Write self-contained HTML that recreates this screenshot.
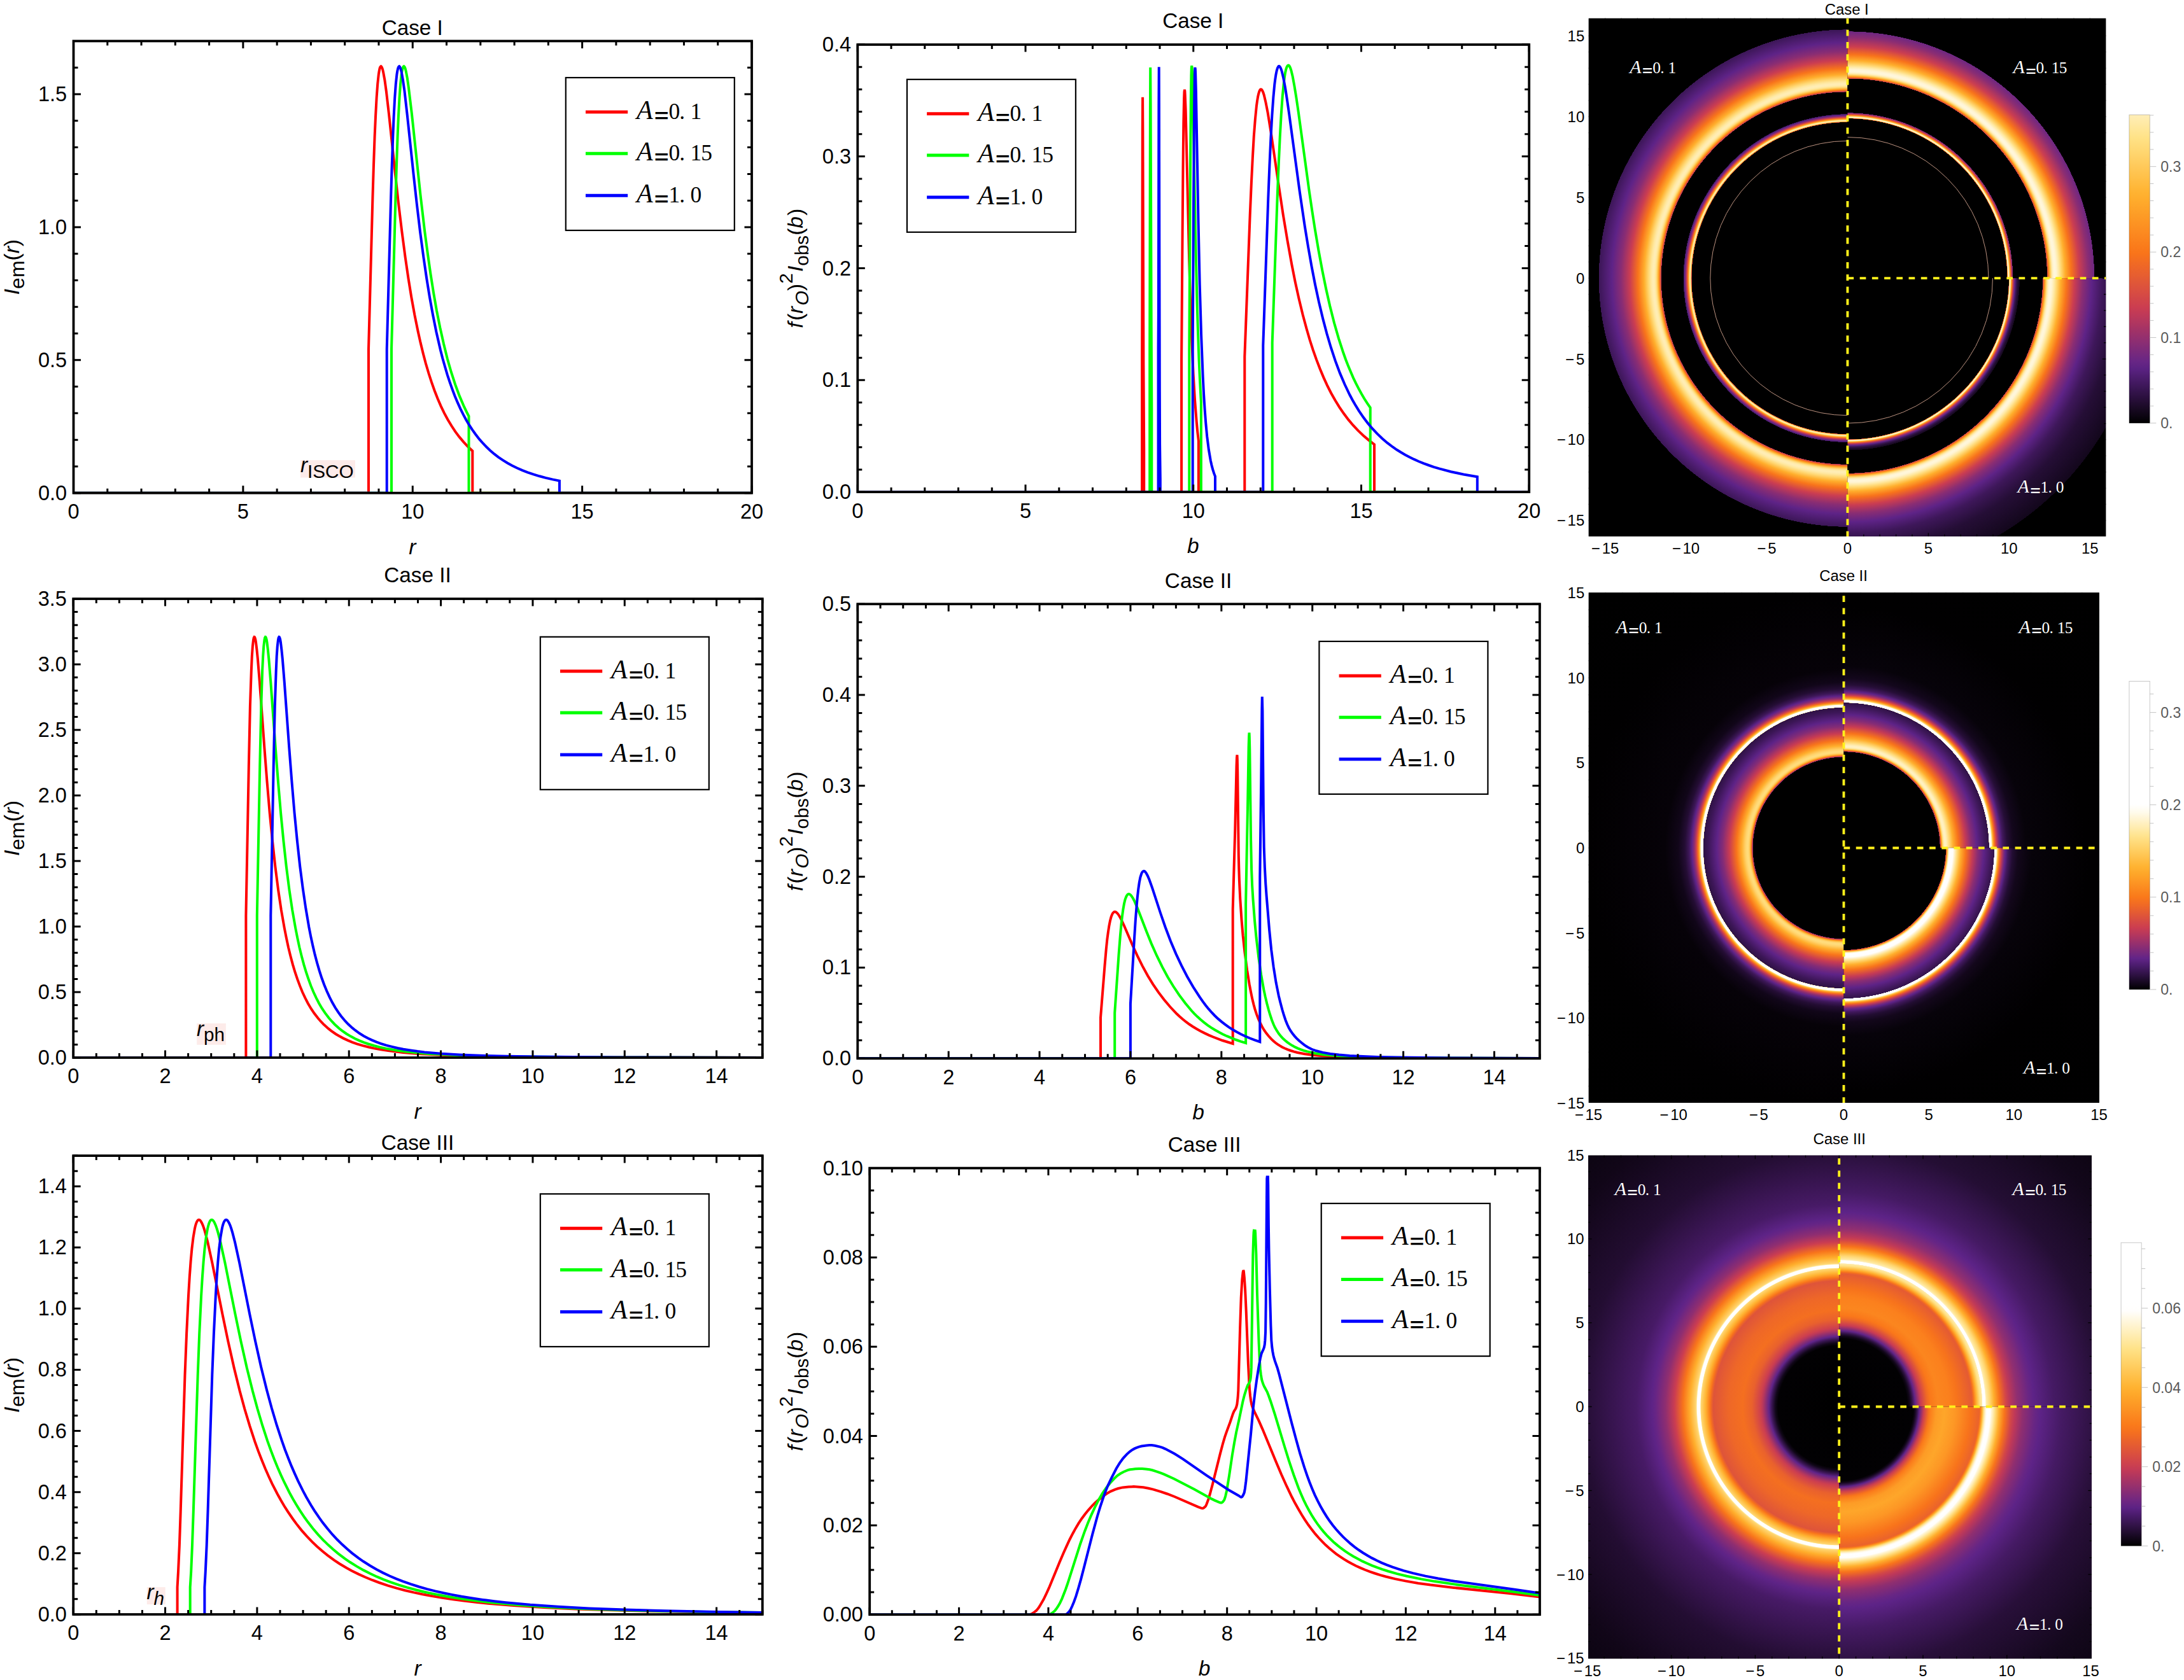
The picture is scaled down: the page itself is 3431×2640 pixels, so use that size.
<!DOCTYPE html>
<html><head><meta charset="utf-8"><title>Figure</title><style>html,body{margin:0;padding:0;background:#fff}svg{display:block}</style></head><body><svg xmlns="http://www.w3.org/2000/svg" width="3431" height="2640" viewBox="0 0 3431 2640"><defs><clipPath id="c1"><rect x="115.50" y="64.50" width="1065.50" height="710.20"/></clipPath>
<clipPath id="c2"><rect x="1347.30" y="70.10" width="1054.90" height="703.00"/></clipPath>
<clipPath id="c3"><rect x="115.20" y="941.00" width="1082.60" height="721.00"/></clipPath>
<clipPath id="c4"><rect x="1347.30" y="949.20" width="1071.60" height="714.10"/></clipPath>
<clipPath id="c5"><rect x="115.20" y="1816.10" width="1082.60" height="720.80"/></clipPath>
<clipPath id="c6"><rect x="1366.20" y="1835.60" width="1052.76" height="701.60"/></clipPath>
<radialGradient id="g1" gradientUnits="userSpaceOnUse" cx="2902.45" cy="437.10" r="574.49"><stop offset="0.00000" stop-color="#000000"/><stop offset="0.42624" stop-color="#000000"/><stop offset="0.42640" stop-color="#be3959"/><stop offset="0.42674" stop-color="#d94e40"/><stop offset="0.42724" stop-color="#fa7619"/><stop offset="0.42790" stop-color="#feaa2b"/><stop offset="0.42807" stop-color="#ffb535"/><stop offset="0.42874" stop-color="#ffd670"/><stop offset="0.42924" stop-color="#ffe592"/><stop offset="0.42974" stop-color="#ffebab"/><stop offset="0.43041" stop-color="#ffedb6"/><stop offset="0.43124" stop-color="#ffeaa7"/><stop offset="0.43241" stop-color="#ffdb7a"/><stop offset="0.43441" stop-color="#ffae2c"/><stop offset="0.43674" stop-color="#fa7519"/><stop offset="0.43991" stop-color="#ca3c52"/><stop offset="0.44291" stop-color="#882d74"/><stop offset="0.44557" stop-color="#5f2489"/><stop offset="0.44874" stop-color="#41185e"/><stop offset="0.44891" stop-color="#000000"/><stop offset="0.50925" stop-color="#000000"/><stop offset="0.50942" stop-color="#b6375c"/><stop offset="0.51042" stop-color="#cd404e"/><stop offset="0.51375" stop-color="#fa7619"/><stop offset="0.51775" stop-color="#ffb230"/><stop offset="0.52125" stop-color="#ffd46d"/><stop offset="0.52459" stop-color="#ffe697"/><stop offset="0.52792" stop-color="#ffecb0"/><stop offset="0.53192" stop-color="#ffedb6"/><stop offset="0.53726" stop-color="#ffe8a1"/><stop offset="0.54476" stop-color="#ffd772"/><stop offset="0.55643" stop-color="#ffae2c"/><stop offset="0.57310" stop-color="#f8741b"/><stop offset="0.59543" stop-color="#cb3d51"/><stop offset="0.61944" stop-color="#8a2d73"/><stop offset="0.64461" stop-color="#5e2387"/><stop offset="0.67761" stop-color="#3e175a"/><stop offset="0.67995" stop-color="#3d1758"/><stop offset="0.68011" stop-color="#000000"/><stop offset="1.00000" stop-color="#000000"/></radialGradient>
<clipPath id="c7"><rect x="2495.80" y="28.85" width="406.65" height="814.05"/></clipPath>
<radialGradient id="g2" gradientUnits="userSpaceOnUse" cx="2902.45" cy="437.10" r="574.49"><stop offset="0.00000" stop-color="#000000"/><stop offset="0.43641" stop-color="#000000"/><stop offset="0.43657" stop-color="#cb3e50"/><stop offset="0.43707" stop-color="#f7721d"/><stop offset="0.43741" stop-color="#fd9624"/><stop offset="0.43757" stop-color="#fea72a"/><stop offset="0.43774" stop-color="#ffb638"/><stop offset="0.43824" stop-color="#ffda78"/><stop offset="0.43874" stop-color="#ffecaf"/><stop offset="0.43924" stop-color="#fff4d1"/><stop offset="0.43974" stop-color="#fff7dd"/><stop offset="0.44024" stop-color="#fff5d6"/><stop offset="0.44107" stop-color="#ffecb2"/><stop offset="0.44207" stop-color="#ffda78"/><stop offset="0.44357" stop-color="#ffb12e"/><stop offset="0.44557" stop-color="#fa7719"/><stop offset="0.44841" stop-color="#ca3c52"/><stop offset="0.45108" stop-color="#882d74"/><stop offset="0.45208" stop-color="#74287e"/><stop offset="0.45224" stop-color="#000000"/><stop offset="0.54576" stop-color="#000000"/><stop offset="0.54592" stop-color="#cc3e50"/><stop offset="0.54926" stop-color="#fa7719"/><stop offset="0.55276" stop-color="#ffb230"/><stop offset="0.55626" stop-color="#ffda78"/><stop offset="0.55959" stop-color="#ffecb1"/><stop offset="0.56276" stop-color="#fff4d1"/><stop offset="0.56659" stop-color="#fff7dd"/><stop offset="0.57110" stop-color="#fff4d3"/><stop offset="0.57776" stop-color="#ffeaa6"/><stop offset="0.58410" stop-color="#ffd874"/><stop offset="0.59543" stop-color="#ffae2c"/><stop offset="0.61177" stop-color="#f8731b"/><stop offset="0.63344" stop-color="#cc3e50"/><stop offset="0.65828" stop-color="#8b2d73"/><stop offset="0.67478" stop-color="#6d2782"/><stop offset="0.67495" stop-color="#000000"/><stop offset="1.00000" stop-color="#000000"/></radialGradient>
<clipPath id="c8"><rect x="2902.45" y="28.85" width="405.75" height="408.25"/></clipPath>
<radialGradient id="g3" gradientUnits="userSpaceOnUse" cx="2902.45" cy="437.10" r="574.49"><stop offset="0.00000" stop-color="#000000"/><stop offset="0.44091" stop-color="#000000"/><stop offset="0.44107" stop-color="#c53a55"/><stop offset="0.44157" stop-color="#f46f20"/><stop offset="0.44174" stop-color="#fb821d"/><stop offset="0.44207" stop-color="#fea62a"/><stop offset="0.44224" stop-color="#ffb637"/><stop offset="0.44274" stop-color="#ffda79"/><stop offset="0.44324" stop-color="#ffecb1"/><stop offset="0.44374" stop-color="#fff4d1"/><stop offset="0.44424" stop-color="#fff6da"/><stop offset="0.44474" stop-color="#fff4cf"/><stop offset="0.44557" stop-color="#ffe9a5"/><stop offset="0.44641" stop-color="#ffd874"/><stop offset="0.44774" stop-color="#ffb12f"/><stop offset="0.44974" stop-color="#fa7719"/><stop offset="0.45241" stop-color="#cc3e50"/><stop offset="0.45541" stop-color="#842c76"/><stop offset="0.45774" stop-color="#5e2387"/><stop offset="0.46124" stop-color="#3c1657"/><stop offset="0.46591" stop-color="#220d31"/><stop offset="0.47058" stop-color="#14081d"/><stop offset="0.47075" stop-color="#000000"/><stop offset="0.53359" stop-color="#000000"/><stop offset="0.53376" stop-color="#c73b54"/><stop offset="0.53726" stop-color="#fa7619"/><stop offset="0.54076" stop-color="#ffb22f"/><stop offset="0.54426" stop-color="#ffda77"/><stop offset="0.54742" stop-color="#ffebad"/><stop offset="0.55059" stop-color="#fff3cf"/><stop offset="0.55426" stop-color="#fff7dc"/><stop offset="0.55876" stop-color="#fff4d2"/><stop offset="0.56543" stop-color="#ffe9a4"/><stop offset="0.57160" stop-color="#ffd874"/><stop offset="0.58276" stop-color="#ffae2c"/><stop offset="0.59877" stop-color="#f8731b"/><stop offset="0.62027" stop-color="#cb3d51"/><stop offset="0.64294" stop-color="#8a2d73"/><stop offset="0.66678" stop-color="#5e2387"/><stop offset="0.69778" stop-color="#3e175a"/><stop offset="0.74246" stop-color="#250e36"/><stop offset="0.81547" stop-color="#13071c"/><stop offset="0.81564" stop-color="#13071c"/><stop offset="0.81580" stop-color="#000000"/><stop offset="1.00000" stop-color="#000000"/></radialGradient>
<clipPath id="c9"><rect x="2902.45" y="437.10" width="405.75" height="405.80"/></clipPath>
<linearGradient id="g4" gradientUnits="userSpaceOnUse" x1="0" y1="664.90" x2="0" y2="180.50"><stop offset="0.0000" stop-color="#000000"/><stop offset="0.0250" stop-color="#0d0513"/><stop offset="0.0500" stop-color="#1a0a25"/><stop offset="0.0750" stop-color="#270e38"/><stop offset="0.1000" stop-color="#33134a"/><stop offset="0.1250" stop-color="#40185d"/><stop offset="0.1500" stop-color="#4d1d6f"/><stop offset="0.1750" stop-color="#5a2282"/><stop offset="0.2000" stop-color="#682685"/><stop offset="0.2250" stop-color="#76297d"/><stop offset="0.2500" stop-color="#842c76"/><stop offset="0.2750" stop-color="#932f6f"/><stop offset="0.3000" stop-color="#a13267"/><stop offset="0.3250" stop-color="#b03660"/><stop offset="0.3500" stop-color="#be3959"/><stop offset="0.3750" stop-color="#cb3d51"/><stop offset="0.4000" stop-color="#d14549"/><stop offset="0.4250" stop-color="#d84d42"/><stop offset="0.4500" stop-color="#de553a"/><stop offset="0.4750" stop-color="#e55d32"/><stop offset="0.5000" stop-color="#ec642a"/><stop offset="0.5250" stop-color="#f26c22"/><stop offset="0.5500" stop-color="#f9741a"/><stop offset="0.5750" stop-color="#fa7c1b"/><stop offset="0.6000" stop-color="#fb841e"/><stop offset="0.6250" stop-color="#fc8c21"/><stop offset="0.6500" stop-color="#fd9423"/><stop offset="0.6750" stop-color="#fd9c26"/><stop offset="0.7000" stop-color="#fea429"/><stop offset="0.7250" stop-color="#ffac2c"/><stop offset="0.7500" stop-color="#ffb332"/><stop offset="0.7750" stop-color="#ffba3e"/><stop offset="0.8000" stop-color="#ffc14a"/><stop offset="0.8250" stop-color="#ffc756"/><stop offset="0.8500" stop-color="#ffce62"/><stop offset="0.8750" stop-color="#ffd56e"/><stop offset="0.9000" stop-color="#ffdb7a"/><stop offset="0.9250" stop-color="#ffe286"/><stop offset="0.9500" stop-color="#ffe696"/><stop offset="0.9750" stop-color="#ffeaa7"/><stop offset="1.0000" stop-color="#ffeeb7"/></linearGradient>
<radialGradient id="g5" gradientUnits="userSpaceOnUse" cx="2896.50" cy="1332.50" r="567.13"><stop offset="0.00000" stop-color="#000000"/><stop offset="0.25171" stop-color="#000000"/><stop offset="0.25188" stop-color="#872d75"/><stop offset="0.25354" stop-color="#cb3d51"/><stop offset="0.25588" stop-color="#fa7619"/><stop offset="0.25871" stop-color="#ffb02d"/><stop offset="0.26121" stop-color="#ffcb5d"/><stop offset="0.26388" stop-color="#ffda77"/><stop offset="0.26738" stop-color="#ffdd7e"/><stop offset="0.27288" stop-color="#ffd26a"/><stop offset="0.28288" stop-color="#ffae2c"/><stop offset="0.29738" stop-color="#f8741b"/><stop offset="0.31722" stop-color="#c83b53"/><stop offset="0.33572" stop-color="#842c76"/><stop offset="0.35156" stop-color="#5e2387"/><stop offset="0.37573" stop-color="#3c1657"/><stop offset="0.38873" stop-color="#2f1244"/><stop offset="0.38890" stop-color="#ffe287"/><stop offset="0.38973" stop-color="#fffcf1"/><stop offset="0.38990" stop-color="#ffffff"/><stop offset="0.39557" stop-color="#ffffff"/><stop offset="0.39657" stop-color="#ffecaf"/><stop offset="0.39740" stop-color="#ffdd7e"/><stop offset="0.39923" stop-color="#ffb93c"/><stop offset="0.39990" stop-color="#ffae2c"/><stop offset="0.40357" stop-color="#f9751a"/><stop offset="0.40873" stop-color="#cc3e50"/><stop offset="0.41407" stop-color="#8e2e71"/><stop offset="0.42057" stop-color="#5e2388"/><stop offset="0.42907" stop-color="#3d1758"/><stop offset="0.44041" stop-color="#240d34"/><stop offset="0.45858" stop-color="#110619"/><stop offset="0.49492" stop-color="#060208"/><stop offset="0.71279" stop-color="#010001"/><stop offset="1.00000" stop-color="#000000"/></radialGradient>
<radialGradient id="g6" gradientUnits="userSpaceOnUse" cx="2896.50" cy="1332.50" r="567.13"><stop offset="0.00000" stop-color="#000000"/><stop offset="0.26638" stop-color="#000000"/><stop offset="0.26654" stop-color="#9a316b"/><stop offset="0.26771" stop-color="#cd3f4f"/><stop offset="0.26971" stop-color="#fa7719"/><stop offset="0.27188" stop-color="#ffb02d"/><stop offset="0.27405" stop-color="#ffd46d"/><stop offset="0.27605" stop-color="#ffe698"/><stop offset="0.27821" stop-color="#ffeeb7"/><stop offset="0.28088" stop-color="#fff1c4"/><stop offset="0.28455" stop-color="#ffeeb8"/><stop offset="0.29238" stop-color="#ffda78"/><stop offset="0.30305" stop-color="#ffae2d"/><stop offset="0.31739" stop-color="#f8741b"/><stop offset="0.33672" stop-color="#c73b54"/><stop offset="0.35306" stop-color="#872c75"/><stop offset="0.36889" stop-color="#5e2387"/><stop offset="0.39140" stop-color="#3c1757"/><stop offset="0.40223" stop-color="#311247"/><stop offset="0.40240" stop-color="#ffe9a2"/><stop offset="0.40290" stop-color="#ffffff"/><stop offset="0.40857" stop-color="#ffffff"/><stop offset="0.40873" stop-color="#fffefa"/><stop offset="0.40957" stop-color="#fff0bf"/><stop offset="0.41074" stop-color="#ffe082"/><stop offset="0.41290" stop-color="#ffb83b"/><stop offset="0.41357" stop-color="#ffad2c"/><stop offset="0.41740" stop-color="#f9741a"/><stop offset="0.42290" stop-color="#ca3c52"/><stop offset="0.42890" stop-color="#822b77"/><stop offset="0.43341" stop-color="#5e2388"/><stop offset="0.44057" stop-color="#41185d"/><stop offset="0.45224" stop-color="#260e37"/><stop offset="0.46991" stop-color="#13071c"/><stop offset="0.50442" stop-color="#07030a"/><stop offset="0.66778" stop-color="#010001"/><stop offset="1.00000" stop-color="#000000"/></radialGradient>
<radialGradient id="g7" gradientUnits="userSpaceOnUse" cx="2896.50" cy="1332.50" r="567.13"><stop offset="0.00000" stop-color="#000000"/><stop offset="0.28271" stop-color="#000000"/><stop offset="0.28288" stop-color="#ba385b"/><stop offset="0.28338" stop-color="#cf424c"/><stop offset="0.28505" stop-color="#fa781a"/><stop offset="0.28671" stop-color="#ffaf2d"/><stop offset="0.28905" stop-color="#ffe48d"/><stop offset="0.29072" stop-color="#fff4cf"/><stop offset="0.29238" stop-color="#fffefb"/><stop offset="0.29438" stop-color="#ffffff"/><stop offset="0.30255" stop-color="#fffefc"/><stop offset="0.31372" stop-color="#ffdc7c"/><stop offset="0.32389" stop-color="#ffaf2d"/><stop offset="0.33789" stop-color="#f8741b"/><stop offset="0.35656" stop-color="#c63b55"/><stop offset="0.37106" stop-color="#8a2d73"/><stop offset="0.38773" stop-color="#5e2387"/><stop offset="0.40990" stop-color="#3d1757"/><stop offset="0.41690" stop-color="#35144d"/><stop offset="0.41707" stop-color="#ffffff"/><stop offset="0.42257" stop-color="#ffffff"/><stop offset="0.42290" stop-color="#fffbef"/><stop offset="0.42440" stop-color="#ffe8a1"/><stop offset="0.42557" stop-color="#ffd671"/><stop offset="0.42774" stop-color="#ffaf2d"/><stop offset="0.43157" stop-color="#f8741b"/><stop offset="0.43691" stop-color="#cc3e50"/><stop offset="0.44341" stop-color="#7f2b79"/><stop offset="0.44757" stop-color="#5e2388"/><stop offset="0.45491" stop-color="#41185d"/><stop offset="0.46758" stop-color="#220d32"/><stop offset="0.48291" stop-color="#13071b"/><stop offset="0.52042" stop-color="#07030a"/><stop offset="0.68145" stop-color="#010001"/><stop offset="1.00000" stop-color="#000000"/></radialGradient>
<linearGradient id="g8" gradientUnits="userSpaceOnUse" x1="0" y1="1554.90" x2="0" y2="1070.50"><stop offset="0.0000" stop-color="#000000"/><stop offset="0.0250" stop-color="#180923"/><stop offset="0.0500" stop-color="#301246"/><stop offset="0.0750" stop-color="#481b69"/><stop offset="0.1000" stop-color="#612488"/><stop offset="0.1250" stop-color="#7c2a7a"/><stop offset="0.1500" stop-color="#97306d"/><stop offset="0.1750" stop-color="#b2365f"/><stop offset="0.2000" stop-color="#cb3d51"/><stop offset="0.2250" stop-color="#d74c42"/><stop offset="0.2500" stop-color="#e45b33"/><stop offset="0.2750" stop-color="#f06a25"/><stop offset="0.3000" stop-color="#fa791a"/><stop offset="0.3250" stop-color="#fb881f"/><stop offset="0.3500" stop-color="#fd9724"/><stop offset="0.3750" stop-color="#fea629"/><stop offset="0.4000" stop-color="#ffb433"/><stop offset="0.4250" stop-color="#ffc04a"/><stop offset="0.4500" stop-color="#ffcd60"/><stop offset="0.4750" stop-color="#ffd977"/><stop offset="0.5000" stop-color="#ffe490"/><stop offset="0.5250" stop-color="#ffecaf"/><stop offset="0.5500" stop-color="#fff3ce"/><stop offset="0.5750" stop-color="#fffbec"/><stop offset="0.6000" stop-color="#ffffff"/><stop offset="0.6250" stop-color="#ffffff"/><stop offset="0.6500" stop-color="#ffffff"/><stop offset="0.6750" stop-color="#ffffff"/><stop offset="0.7000" stop-color="#ffffff"/><stop offset="0.7250" stop-color="#ffffff"/><stop offset="0.7500" stop-color="#ffffff"/><stop offset="0.7750" stop-color="#ffffff"/><stop offset="0.8000" stop-color="#ffffff"/><stop offset="0.8250" stop-color="#ffffff"/><stop offset="0.8500" stop-color="#ffffff"/><stop offset="0.8750" stop-color="#ffffff"/><stop offset="0.9000" stop-color="#ffffff"/><stop offset="0.9250" stop-color="#ffffff"/><stop offset="0.9500" stop-color="#ffffff"/><stop offset="0.9750" stop-color="#ffffff"/><stop offset="1.0000" stop-color="#ffffff"/></linearGradient>
<radialGradient id="g9" gradientUnits="userSpaceOnUse" cx="2889.20" cy="2210.50" r="559.21"><stop offset="0.00000" stop-color="#000000"/><stop offset="0.17153" stop-color="#020103"/><stop offset="0.17920" stop-color="#110719"/><stop offset="0.18953" stop-color="#3b1655"/><stop offset="0.19703" stop-color="#602489"/><stop offset="0.21470" stop-color="#b9385b"/><stop offset="0.22054" stop-color="#cd3f4f"/><stop offset="0.24471" stop-color="#e9612d"/><stop offset="0.27071" stop-color="#f46f20"/><stop offset="0.31139" stop-color="#ee6728"/><stop offset="0.35356" stop-color="#de543a"/><stop offset="0.36073" stop-color="#f36d22"/><stop offset="0.36306" stop-color="#fa791a"/><stop offset="0.37523" stop-color="#ffb331"/><stop offset="0.38556" stop-color="#ffd065"/><stop offset="0.38790" stop-color="#ffd773"/><stop offset="0.38873" stop-color="#ffe083"/><stop offset="0.38906" stop-color="#ffe698"/><stop offset="0.39023" stop-color="#ffffff"/><stop offset="0.39873" stop-color="#ffffff"/><stop offset="0.39923" stop-color="#fff8e2"/><stop offset="0.40057" stop-color="#ffe79d"/><stop offset="0.40140" stop-color="#ffe083"/><stop offset="0.40323" stop-color="#ffd46e"/><stop offset="0.41907" stop-color="#ffae2c"/><stop offset="0.43857" stop-color="#f8741b"/><stop offset="0.46258" stop-color="#cb3d51"/><stop offset="0.48725" stop-color="#902e70"/><stop offset="0.51575" stop-color="#672585"/><stop offset="0.52642" stop-color="#5d2386"/><stop offset="0.56926" stop-color="#471a66"/><stop offset="0.72629" stop-color="#230d32"/><stop offset="0.91532" stop-color="#110618"/><stop offset="1.00000" stop-color="#0c0512"/></radialGradient>
<radialGradient id="g10" gradientUnits="userSpaceOnUse" cx="2889.20" cy="2210.50" r="559.21"><stop offset="0.00000" stop-color="#000000"/><stop offset="0.19153" stop-color="#020103"/><stop offset="0.19870" stop-color="#110719"/><stop offset="0.20503" stop-color="#2d1141"/><stop offset="0.21370" stop-color="#612488"/><stop offset="0.22870" stop-color="#c83b54"/><stop offset="0.24771" stop-color="#f06a24"/><stop offset="0.25671" stop-color="#fa781a"/><stop offset="0.27738" stop-color="#fb861f"/><stop offset="0.30938" stop-color="#fb801d"/><stop offset="0.33172" stop-color="#f7731c"/><stop offset="0.37256" stop-color="#e45b33"/><stop offset="0.37656" stop-color="#ef6926"/><stop offset="0.37873" stop-color="#fa791a"/><stop offset="0.38606" stop-color="#ffb230"/><stop offset="0.39573" stop-color="#ffe184"/><stop offset="0.40007" stop-color="#ffe8a0"/><stop offset="0.40190" stop-color="#ffecae"/><stop offset="0.40257" stop-color="#fff0c2"/><stop offset="0.40273" stop-color="#fff4d3"/><stop offset="0.40290" stop-color="#fffbef"/><stop offset="0.40307" stop-color="#ffffff"/><stop offset="0.41090" stop-color="#ffffff"/><stop offset="0.41207" stop-color="#fff2ca"/><stop offset="0.41340" stop-color="#ffecaf"/><stop offset="0.41657" stop-color="#ffe697"/><stop offset="0.42357" stop-color="#ffd773"/><stop offset="0.43557" stop-color="#ffae2c"/><stop offset="0.45058" stop-color="#f8741b"/><stop offset="0.46808" stop-color="#d34648"/><stop offset="0.47758" stop-color="#bf3958"/><stop offset="0.49958" stop-color="#912f70"/><stop offset="0.53226" stop-color="#692684"/><stop offset="0.54676" stop-color="#5d2387"/><stop offset="0.60243" stop-color="#451a64"/><stop offset="0.73629" stop-color="#240e34"/><stop offset="0.92132" stop-color="#12071a"/><stop offset="1.00000" stop-color="#0e0514"/></radialGradient>
<radialGradient id="g11" gradientUnits="userSpaceOnUse" cx="2889.20" cy="2210.50" r="559.21"><stop offset="0.00000" stop-color="#000000"/><stop offset="0.20837" stop-color="#020103"/><stop offset="0.21337" stop-color="#110618"/><stop offset="0.21937" stop-color="#321349"/><stop offset="0.22554" stop-color="#602489"/><stop offset="0.23787" stop-color="#cb3e50"/><stop offset="0.25204" stop-color="#f7731c"/><stop offset="0.25671" stop-color="#fb7f1c"/><stop offset="0.27305" stop-color="#fd9c26"/><stop offset="0.29622" stop-color="#fea62a"/><stop offset="0.32655" stop-color="#fd9725"/><stop offset="0.36856" stop-color="#f8731b"/><stop offset="0.39357" stop-color="#ea632c"/><stop offset="0.39623" stop-color="#f46f20"/><stop offset="0.39740" stop-color="#fa7a1a"/><stop offset="0.40190" stop-color="#ffb12e"/><stop offset="0.40590" stop-color="#ffdd7d"/><stop offset="0.41074" stop-color="#fff4d2"/><stop offset="0.41374" stop-color="#fffcf5"/><stop offset="0.41640" stop-color="#ffffff"/><stop offset="0.42490" stop-color="#fffefc"/><stop offset="0.42774" stop-color="#fff7dd"/><stop offset="0.43341" stop-color="#ffebad"/><stop offset="0.43891" stop-color="#ffdb7a"/><stop offset="0.44974" stop-color="#ffaf2d"/><stop offset="0.46458" stop-color="#f8741b"/><stop offset="0.48258" stop-color="#d34747"/><stop offset="0.49292" stop-color="#c03958"/><stop offset="0.51642" stop-color="#8f2e70"/><stop offset="0.54976" stop-color="#682684"/><stop offset="0.56509" stop-color="#5d2387"/><stop offset="0.62477" stop-color="#451a64"/><stop offset="0.73996" stop-color="#280f39"/><stop offset="0.91382" stop-color="#14081d"/><stop offset="1.00000" stop-color="#0f0616"/></radialGradient>
<linearGradient id="g12" gradientUnits="userSpaceOnUse" x1="0" y1="2429.30" x2="0" y2="1952.80"><stop offset="0.0000" stop-color="#000000"/><stop offset="0.0250" stop-color="#12071a"/><stop offset="0.0500" stop-color="#250e35"/><stop offset="0.0750" stop-color="#37154f"/><stop offset="0.1000" stop-color="#491b6a"/><stop offset="0.1250" stop-color="#5c2284"/><stop offset="0.1500" stop-color="#702781"/><stop offset="0.1750" stop-color="#842c76"/><stop offset="0.2000" stop-color="#99316c"/><stop offset="0.2250" stop-color="#ad3561"/><stop offset="0.2500" stop-color="#c23a57"/><stop offset="0.2750" stop-color="#cf434c"/><stop offset="0.3000" stop-color="#d94e40"/><stop offset="0.3250" stop-color="#e25935"/><stop offset="0.3500" stop-color="#eb642a"/><stop offset="0.3750" stop-color="#f5701f"/><stop offset="0.4000" stop-color="#fa7b1b"/><stop offset="0.4250" stop-color="#fb861f"/><stop offset="0.4500" stop-color="#fc9223"/><stop offset="0.4750" stop-color="#fd9d26"/><stop offset="0.5000" stop-color="#fea82a"/><stop offset="0.5250" stop-color="#ffb332"/><stop offset="0.5500" stop-color="#ffbd43"/><stop offset="0.5750" stop-color="#ffc654"/><stop offset="0.6000" stop-color="#ffd065"/><stop offset="0.6250" stop-color="#ffd976"/><stop offset="0.6500" stop-color="#ffe288"/><stop offset="0.6750" stop-color="#ffe89f"/><stop offset="0.7000" stop-color="#ffeeb7"/><stop offset="0.7250" stop-color="#fff3ce"/><stop offset="0.7500" stop-color="#fff9e5"/><stop offset="0.7750" stop-color="#fffefd"/><stop offset="0.8000" stop-color="#ffffff"/><stop offset="0.8250" stop-color="#ffffff"/><stop offset="0.8500" stop-color="#ffffff"/><stop offset="0.8750" stop-color="#ffffff"/><stop offset="0.9000" stop-color="#ffffff"/><stop offset="0.9250" stop-color="#ffffff"/><stop offset="0.9500" stop-color="#ffffff"/><stop offset="0.9750" stop-color="#ffffff"/><stop offset="1.0000" stop-color="#ffffff"/></linearGradient></defs><rect width="3431" height="2640" fill="#fff"/><rect x="472.00" y="723.10" width="86.00" height="27.40" fill="#fdebe9"/>
<text x="471.90" y="742.10" font-family='"Liberation Sans", sans-serif' font-size="33.2"><tspan font-style="italic">r</tspan><tspan font-size="29.7" dy="8.4">ISCO</tspan></text>
<g clip-path="url(#c1)" fill="none" stroke-width="4.00" stroke-linejoin="miter" stroke-miterlimit="2.5">
<path d="M115.5,774.7L579.0,774.7L579.0,548.5L585.4,311.4L587.0,259.3L588.6,214.7L590.0,183.7L591.6,153.9L593.2,132.0L594.8,117.0L595.6,111.9L596.6,107.2L597.4,105.2L598.0,104.5L598.5,104.2L599.3,104.8L600.4,106.9L601.2,109.4L602.2,113.9L604.4,125.9L606.8,143.3L611.1,180.2L621.0,273.7L626.0,319.6L631.4,364.2L636.7,404.6L641.5,437.4L646.3,467.1L651.4,495.2L656.8,521.5L660.6,538.6L664.8,555.7L668.9,571.3L673.4,586.5L677.9,600.4L682.6,613.7L687.6,626.5L692.6,638.1L697.9,649.1L703.5,659.5L709.4,669.3L715.2,678.1L721.4,686.4L728.1,694.4L735.0,701.8L742.3,708.7L742.3,774.7L1181.0,774.7" stroke="#ff0000"/>
<path d="M115.5,774.7L615.0,774.7L615.0,548.5L621.4,311.4L623.0,259.3L624.6,214.7L625.9,183.7L627.5,153.9L629.1,132.0L630.7,117.0L631.5,111.9L632.6,107.2L633.4,105.2L633.9,104.5L634.5,104.2L635.3,104.8L636.1,106.2L636.9,108.5L637.9,112.6L639.8,122.6L641.9,137.2L646.8,177.7L660.4,305.4L667.3,364.2L671.9,398.8L676.4,430.4L681.2,460.7L686.0,488.1L691.4,515.2L697.0,540.3L702.8,563.7L708.8,584.7L715.2,604.4L721.9,622.4L729.0,639.0L732.8,646.8L736.5,654.1L736.5,774.7L1181.0,774.7" stroke="#00ff00"/>
<path d="M115.5,774.7L607.7,774.7L607.7,548.5L614.1,311.4L615.7,259.3L617.3,214.7L618.6,183.7L620.2,153.9L621.8,132.0L623.4,117.0L624.2,111.9L625.3,107.2L626.1,105.2L626.6,104.5L627.2,104.2L628.0,104.8L629.0,106.9L629.8,109.4L630.9,113.9L633.0,125.9L635.5,143.3L639.7,180.2L649.6,273.7L654.7,319.6L660.0,364.2L665.4,404.6L670.2,437.4L675.0,467.1L680.1,495.2L685.4,521.5L692.0,550.2L695.2,562.7L699.1,576.5L702.9,589.3L706.8,601.1L710.6,611.9L714.4,622.0L718.9,632.7L723.4,642.6L727.9,651.6L732.4,659.9L736.8,667.4L742.0,675.3L747.1,682.5L752.8,689.9L758.6,696.5L764.4,702.5L770.1,707.9L776.5,713.4L782.9,718.3L790.0,723.1L797.0,727.5L804.7,731.7L812.4,735.5L820.7,739.1L829.0,742.3L838.0,745.4L847.6,748.3L857.2,750.9L868.1,753.4L878.9,755.6L878.9,774.7L1181.0,774.7" stroke="#0000ff"/>
</g>
<path d="M115.50,774.70 v-7.00 M115.50,64.50 v7.00 M168.78,774.70 v-7.00 M168.78,64.50 v7.00 M222.05,774.70 v-7.00 M222.05,64.50 v7.00 M275.32,774.70 v-7.00 M275.32,64.50 v7.00 M328.60,774.70 v-7.00 M328.60,64.50 v7.00 M381.88,774.70 v-7.00 M381.88,64.50 v7.00 M435.15,774.70 v-7.00 M435.15,64.50 v7.00 M488.42,774.70 v-7.00 M488.42,64.50 v7.00 M541.70,774.70 v-7.00 M541.70,64.50 v7.00 M594.98,774.70 v-7.00 M594.98,64.50 v7.00 M648.25,774.70 v-7.00 M648.25,64.50 v7.00 M701.53,774.70 v-7.00 M701.53,64.50 v7.00 M754.80,774.70 v-7.00 M754.80,64.50 v7.00 M808.08,774.70 v-7.00 M808.08,64.50 v7.00 M861.35,774.70 v-7.00 M861.35,64.50 v7.00 M914.62,774.70 v-7.00 M914.62,64.50 v7.00 M967.90,774.70 v-7.00 M967.90,64.50 v7.00 M1021.17,774.70 v-7.00 M1021.17,64.50 v7.00 M1074.45,774.70 v-7.00 M1074.45,64.50 v7.00 M1127.72,774.70 v-7.00 M1127.72,64.50 v7.00 M1181.00,774.70 v-7.00 M1181.00,64.50 v7.00 M115.50,774.70 v-11.50 M115.50,64.50 v11.50 M381.88,774.70 v-11.50 M381.88,64.50 v11.50 M648.25,774.70 v-11.50 M648.25,64.50 v11.50 M914.62,774.70 v-11.50 M914.62,64.50 v11.50 M1181.00,774.70 v-11.50 M1181.00,64.50 v11.50 M115.50,774.70 h7.00 M1181.00,774.70 h-7.00 M115.50,732.92 h7.00 M1181.00,732.92 h-7.00 M115.50,691.15 h7.00 M1181.00,691.15 h-7.00 M115.50,649.37 h7.00 M1181.00,649.37 h-7.00 M115.50,607.59 h7.00 M1181.00,607.59 h-7.00 M115.50,565.82 h7.00 M1181.00,565.82 h-7.00 M115.50,524.04 h7.00 M1181.00,524.04 h-7.00 M115.50,482.26 h7.00 M1181.00,482.26 h-7.00 M115.50,440.49 h7.00 M1181.00,440.49 h-7.00 M115.50,398.71 h7.00 M1181.00,398.71 h-7.00 M115.50,356.94 h7.00 M1181.00,356.94 h-7.00 M115.50,315.16 h7.00 M1181.00,315.16 h-7.00 M115.50,273.38 h7.00 M1181.00,273.38 h-7.00 M115.50,231.61 h7.00 M1181.00,231.61 h-7.00 M115.50,189.83 h7.00 M1181.00,189.83 h-7.00 M115.50,148.05 h7.00 M1181.00,148.05 h-7.00 M115.50,106.28 h7.00 M1181.00,106.28 h-7.00 M115.50,64.50 h7.00 M1181.00,64.50 h-7.00 M115.50,774.70 h11.50 M1181.00,774.70 h-11.50 M115.50,565.82 h11.50 M1181.00,565.82 h-11.50 M115.50,356.94 h11.50 M1181.00,356.94 h-11.50 M115.50,148.05 h11.50 M1181.00,148.05 h-11.50" stroke="#000" stroke-width="3" fill="none"/>
<rect x="115.50" y="64.50" width="1065.50" height="710.20" fill="none" stroke="#000" stroke-width="3.8"/>
<g font-family='"Liberation Sans", sans-serif' font-size="32.5" fill="#000">
<text x="115.50" y="815.10" text-anchor="middle">0</text>
<text x="381.88" y="815.10" text-anchor="middle">5</text>
<text x="648.25" y="815.10" text-anchor="middle">10</text>
<text x="914.62" y="815.10" text-anchor="middle">15</text>
<text x="1181.00" y="815.10" text-anchor="middle">20</text>
<text x="105.20" y="785.70" text-anchor="end">0.0</text>
<text x="105.20" y="576.82" text-anchor="end">0.5</text>
<text x="105.20" y="367.94" text-anchor="end">1.0</text>
<text x="105.20" y="159.05" text-anchor="end">1.5</text>
<text x="647.75" y="55.40" text-anchor="middle" font-size="33.3">Case I</text>
</g>
<text x="647.75" y="870.60" text-anchor="middle" font-family='"Liberation Sans", sans-serif' font-size="33.5" font-style="italic">r</text>
<g transform="translate(30.10,419.60) rotate(-90)"><text text-anchor="middle" font-family='"Liberation Sans", sans-serif' font-size="33.5" x="0" y="0"><tspan font-style="italic">I</tspan><tspan font-size="32" dy="8">em</tspan><tspan dy="-8">(</tspan><tspan font-style="italic">r</tspan>)</text></g>
<rect x="888.80" y="122.00" width="265" height="240" fill="#fff" stroke="#000" stroke-width="2.2"/>
<line x1="920.00" y1="176.00" x2="986.20" y2="176.00" stroke="#ff0000" stroke-width="5"/>
<text y="187.00" fill="#000" font-family='"Liberation Serif", serif'><tspan x="1000.10" font-size="42.0" font-style="italic">A</tspan><tspan x="1027.90" dy="5.00" font-size="29.0" font-family='"Liberation Sans", sans-serif' font-weight="bold" textLength="22.50" lengthAdjust="spacingAndGlyphs">=</tspan><tspan dy="-5.00" font-size="1"> </tspan><tspan font-size="35.5"><tspan x="1050.50">0</tspan><tspan x="1067.30">.</tspan><tspan x="1084.50">1</tspan></tspan></text>
<line x1="920.00" y1="241.30" x2="986.20" y2="241.30" stroke="#00ff00" stroke-width="5"/>
<text y="252.30" fill="#000" font-family='"Liberation Serif", serif'><tspan x="1000.10" font-size="42.0" font-style="italic">A</tspan><tspan x="1027.90" dy="5.00" font-size="29.0" font-family='"Liberation Sans", sans-serif' font-weight="bold" textLength="22.50" lengthAdjust="spacingAndGlyphs">=</tspan><tspan dy="-5.00" font-size="1"> </tspan><tspan font-size="35.5"><tspan x="1050.50">0</tspan><tspan x="1067.30">.</tspan><tspan x="1084.50">1</tspan><tspan x="1101.20">5</tspan></tspan></text>
<line x1="920.00" y1="307.20" x2="986.20" y2="307.20" stroke="#0000ff" stroke-width="5"/>
<text y="318.20" fill="#000" font-family='"Liberation Serif", serif'><tspan x="1000.10" font-size="42.0" font-style="italic">A</tspan><tspan x="1027.90" dy="5.00" font-size="29.0" font-family='"Liberation Sans", sans-serif' font-weight="bold" textLength="22.50" lengthAdjust="spacingAndGlyphs">=</tspan><tspan dy="-5.00" font-size="1"> </tspan><tspan font-size="35.5"><tspan x="1050.50">1</tspan><tspan x="1067.30">.</tspan><tspan x="1084.50">0</tspan></tspan></text>
<g clip-path="url(#c2)" fill="none" stroke-width="4.00" stroke-linejoin="miter" stroke-miterlimit="2.5">
<path d="M1347.3,773.1L1794.1,773.1L1794.1,563.8L1794.3,487.1L1794.8,204.0L1795.1,152.7L1795.4,206.5L1796.4,573.0L1797.2,705.9L1797.2,773.1L1856.1,773.1L1856.1,564.1L1857.6,366.7L1858.5,262.8L1859.3,194.3L1860.1,154.5L1860.5,144.5L1861.0,140.8L1861.4,143.2L1861.7,148.8L1862.7,174.7L1868.2,409.1L1870.2,477.3L1872.2,533.5L1874.6,587.5L1877.1,628.8L1879.8,663.1L1881.2,678.1L1882.9,692.8L1882.9,773.1L1955.3,773.1L1955.3,560.4L1963.7,337.6L1965.9,287.1L1967.9,247.1L1969.8,213.9L1971.9,187.1L1974.0,165.9L1975.0,158.7L1976.2,151.6L1977.2,147.3L1978.4,143.4L1979.6,141.2L1980.0,140.7L1980.8,140.4L1981.2,140.5L1982.0,140.9L1983.2,142.6L1984.4,145.3L1985.6,148.9L1988.4,160.6L1991.6,176.9L1996.9,209.8L2009.4,295.3L2015.8,337.7L2022.6,378.5L2029.3,415.6L2034.8,443.3L2040.6,469.6L2046.6,494.4L2052.6,516.8L2057.6,534.0L2062.7,549.8L2068.0,564.9L2073.5,579.3L2079.3,593.1L2085.0,605.6L2091.0,617.5L2097.5,629.1L2104.0,639.6L2111.0,649.8L2118.2,659.4L2125.6,668.2L2133.3,676.4L2141.5,684.2L2150.2,691.6L2159.0,698.4L2159.0,773.1L2402.2,773.1" stroke="#ff0000"/>
<path d="M1347.3,773.1L1806.2,773.1L1806.2,548.1L1806.9,175.8L1807.2,106.1L1807.6,163.4L1808.7,513.7L1809.3,641.2L1809.3,773.1L1868.3,773.1L1868.3,551.7L1869.5,329.1L1870.8,159.9L1871.4,118.5L1871.8,106.5L1872.2,103.3L1872.5,105.1L1872.9,112.9L1873.7,141.5L1877.8,359.3L1880.5,473.3L1882.0,522.0L1883.5,564.5L1885.2,601.3L1886.9,632.5L1886.9,773.1L1998.7,773.1L1998.7,538.5L2006.7,308.6L2008.8,256.8L2010.8,214.0L2012.8,178.8L2014.8,150.7L2017.0,128.8L2017.9,121.5L2019.1,114.2L2020.3,108.9L2021.5,105.3L2022.7,103.3L2023.2,102.9L2023.9,102.6L2024.9,103.0L2026.1,104.6L2027.1,106.8L2028.3,110.3L2030.7,120.1L2033.5,135.3L2036.4,153.2L2039.8,176.3L2056.8,301.0L2061.4,332.0L2065.7,359.7L2071.5,393.9L2077.3,425.1L2083.3,454.5L2089.3,481.0L2096.0,507.5L2103.0,531.8L2110.2,554.0L2114.0,564.7L2117.9,574.7L2122.0,584.6L2126.0,593.8L2130.1,602.4L2134.5,610.9L2138.8,618.8L2143.3,626.5L2147.9,633.6L2152.7,640.6L2152.7,773.1L2402.2,773.1" stroke="#00ff00"/>
<path d="M1347.3,773.1L1819.6,773.1L1819.6,547.8L1819.9,495.3L1820.4,168.4L1820.7,105.3L1820.9,162.5L1821.8,616.1L1822.1,698.4L1822.8,752.2L1822.8,773.1L1873.7,773.1L1873.7,552.6L1874.9,334.2L1876.2,160.2L1876.8,119.1L1877.1,109.4L1877.4,106.0L1877.8,108.2L1878.1,114.8L1878.9,144.9L1882.5,345.5L1884.7,446.8L1887.1,526.3L1889.7,591.9L1891.1,619.7L1892.6,642.9L1894.3,665.1L1896.2,685.4L1898.9,706.7L1901.8,723.6L1903.5,731.3L1905.2,737.6L1907.1,743.6L1909.0,748.5L1909.0,773.1L1984.3,773.1L1984.3,542.9L1992.3,312.1L1994.4,259.9L1996.4,216.6L1998.4,181.0L2000.4,152.7L2002.3,132.4L2003.3,124.6L2004.5,116.8L2005.7,111.0L2006.9,107.1L2008.1,104.8L2008.5,104.3L2009.3,104.0L2010.2,104.4L2011.4,106.0L2012.6,108.7L2013.8,112.5L2016.2,122.6L2019.1,138.2L2021.7,154.9L2025.1,178.3L2041.7,300.7L2049.8,355.6L2055.1,388.0L2060.6,419.1L2066.1,447.5L2071.9,474.4L2078.2,500.7L2084.4,524.3L2090.9,546.2L2097.8,567.2L2105.0,586.4L2112.5,604.0L2120.4,620.5L2124.5,628.2L2128.8,635.8L2135.0,645.9L2141.8,655.8L2148.7,664.9L2155.9,673.5L2163.4,681.4L2171.3,689.0L2179.4,695.9L2188.1,702.5L2194.3,706.8L2200.8,710.8L2207.5,714.7L2214.2,718.3L2221.2,721.7L2228.6,725.0L2236.3,728.1L2244.2,731.0L2252.4,733.8L2261.0,736.4L2279.3,741.2L2299.2,745.5L2320.8,749.2L2320.8,773.1L2402.2,773.1" stroke="#0000ff"/>
</g>
<path d="M1347.30,773.10 v-7.00 M1347.30,70.10 v7.00 M1400.04,773.10 v-7.00 M1400.04,70.10 v7.00 M1452.79,773.10 v-7.00 M1452.79,70.10 v7.00 M1505.53,773.10 v-7.00 M1505.53,70.10 v7.00 M1558.28,773.10 v-7.00 M1558.28,70.10 v7.00 M1611.02,773.10 v-7.00 M1611.02,70.10 v7.00 M1663.77,773.10 v-7.00 M1663.77,70.10 v7.00 M1716.51,773.10 v-7.00 M1716.51,70.10 v7.00 M1769.26,773.10 v-7.00 M1769.26,70.10 v7.00 M1822.00,773.10 v-7.00 M1822.00,70.10 v7.00 M1874.75,773.10 v-7.00 M1874.75,70.10 v7.00 M1927.49,773.10 v-7.00 M1927.49,70.10 v7.00 M1980.24,773.10 v-7.00 M1980.24,70.10 v7.00 M2032.98,773.10 v-7.00 M2032.98,70.10 v7.00 M2085.73,773.10 v-7.00 M2085.73,70.10 v7.00 M2138.47,773.10 v-7.00 M2138.47,70.10 v7.00 M2191.22,773.10 v-7.00 M2191.22,70.10 v7.00 M2243.96,773.10 v-7.00 M2243.96,70.10 v7.00 M2296.71,773.10 v-7.00 M2296.71,70.10 v7.00 M2349.45,773.10 v-7.00 M2349.45,70.10 v7.00 M2402.20,773.10 v-7.00 M2402.20,70.10 v7.00 M1347.30,773.10 v-11.50 M1347.30,70.10 v11.50 M1611.02,773.10 v-11.50 M1611.02,70.10 v11.50 M1874.75,773.10 v-11.50 M1874.75,70.10 v11.50 M2138.47,773.10 v-11.50 M2138.47,70.10 v11.50 M2402.20,773.10 v-11.50 M2402.20,70.10 v11.50 M1347.30,773.10 h7.00 M2402.20,773.10 h-7.00 M1347.30,737.95 h7.00 M2402.20,737.95 h-7.00 M1347.30,702.80 h7.00 M2402.20,702.80 h-7.00 M1347.30,667.65 h7.00 M2402.20,667.65 h-7.00 M1347.30,632.50 h7.00 M2402.20,632.50 h-7.00 M1347.30,597.35 h7.00 M2402.20,597.35 h-7.00 M1347.30,562.20 h7.00 M2402.20,562.20 h-7.00 M1347.30,527.05 h7.00 M2402.20,527.05 h-7.00 M1347.30,491.90 h7.00 M2402.20,491.90 h-7.00 M1347.30,456.75 h7.00 M2402.20,456.75 h-7.00 M1347.30,421.60 h7.00 M2402.20,421.60 h-7.00 M1347.30,386.45 h7.00 M2402.20,386.45 h-7.00 M1347.30,351.30 h7.00 M2402.20,351.30 h-7.00 M1347.30,316.15 h7.00 M2402.20,316.15 h-7.00 M1347.30,281.00 h7.00 M2402.20,281.00 h-7.00 M1347.30,245.85 h7.00 M2402.20,245.85 h-7.00 M1347.30,210.70 h7.00 M2402.20,210.70 h-7.00 M1347.30,175.55 h7.00 M2402.20,175.55 h-7.00 M1347.30,140.40 h7.00 M2402.20,140.40 h-7.00 M1347.30,105.25 h7.00 M2402.20,105.25 h-7.00 M1347.30,70.10 h7.00 M2402.20,70.10 h-7.00 M1347.30,773.10 h11.50 M2402.20,773.10 h-11.50 M1347.30,597.35 h11.50 M2402.20,597.35 h-11.50 M1347.30,421.60 h11.50 M2402.20,421.60 h-11.50 M1347.30,245.85 h11.50 M2402.20,245.85 h-11.50 M1347.30,70.10 h11.50 M2402.20,70.10 h-11.50" stroke="#000" stroke-width="3" fill="none"/>
<rect x="1347.30" y="70.10" width="1054.90" height="703.00" fill="none" stroke="#000" stroke-width="3.8"/>
<g font-family='"Liberation Sans", sans-serif' font-size="32.5" fill="#000">
<text x="1347.30" y="813.50" text-anchor="middle">0</text>
<text x="1611.02" y="813.50" text-anchor="middle">5</text>
<text x="1874.75" y="813.50" text-anchor="middle">10</text>
<text x="2138.47" y="813.50" text-anchor="middle">15</text>
<text x="2402.20" y="813.50" text-anchor="middle">20</text>
<text x="1337.00" y="784.10" text-anchor="end">0.0</text>
<text x="1337.00" y="608.35" text-anchor="end">0.1</text>
<text x="1337.00" y="432.60" text-anchor="end">0.2</text>
<text x="1337.00" y="256.85" text-anchor="end">0.3</text>
<text x="1337.00" y="81.10" text-anchor="end">0.4</text>
<text x="1874.25" y="44.25" text-anchor="middle" font-size="33.3">Case I</text>
</g>
<text x="1874.25" y="869.20" text-anchor="middle" font-family='"Liberation Sans", sans-serif' font-size="33.5" font-style="italic">b</text>
<g transform="translate(1261.00,421.60) rotate(-90)"><text text-anchor="middle" font-family='"Liberation Sans", sans-serif' font-size="33.5" x="0" y="0"><tspan font-style="italic">f</tspan><tspan dx="2.4">(</tspan><tspan font-style="italic">r</tspan><tspan font-size="29.7" font-style="italic" dx="1.4" dy="8.5">O</tspan><tspan dy="-8.5">)</tspan><tspan font-size="29.7" dy="-15.9">2</tspan><tspan dy="15.9" dx="2.3" font-style="italic">I</tspan><tspan font-size="29.7" dy="8.5">obs</tspan><tspan dy="-8.5">(</tspan><tspan font-style="italic">b</tspan><tspan dx="1.2">)</tspan></text></g>
<rect x="1424.90" y="124.80" width="265" height="240" fill="#fff" stroke="#000" stroke-width="2.2"/>
<line x1="1456.10" y1="178.80" x2="1522.30" y2="178.80" stroke="#ff0000" stroke-width="5"/>
<text y="189.80" fill="#000" font-family='"Liberation Serif", serif'><tspan x="1536.20" font-size="42.0" font-style="italic">A</tspan><tspan x="1564.00" dy="5.00" font-size="29.0" font-family='"Liberation Sans", sans-serif' font-weight="bold" textLength="22.50" lengthAdjust="spacingAndGlyphs">=</tspan><tspan dy="-5.00" font-size="1"> </tspan><tspan font-size="35.5"><tspan x="1586.60">0</tspan><tspan x="1603.40">.</tspan><tspan x="1620.60">1</tspan></tspan></text>
<line x1="1456.10" y1="244.10" x2="1522.30" y2="244.10" stroke="#00ff00" stroke-width="5"/>
<text y="255.10" fill="#000" font-family='"Liberation Serif", serif'><tspan x="1536.20" font-size="42.0" font-style="italic">A</tspan><tspan x="1564.00" dy="5.00" font-size="29.0" font-family='"Liberation Sans", sans-serif' font-weight="bold" textLength="22.50" lengthAdjust="spacingAndGlyphs">=</tspan><tspan dy="-5.00" font-size="1"> </tspan><tspan font-size="35.5"><tspan x="1586.60">0</tspan><tspan x="1603.40">.</tspan><tspan x="1620.60">1</tspan><tspan x="1637.30">5</tspan></tspan></text>
<line x1="1456.10" y1="310.00" x2="1522.30" y2="310.00" stroke="#0000ff" stroke-width="5"/>
<text y="321.00" fill="#000" font-family='"Liberation Serif", serif'><tspan x="1536.20" font-size="42.0" font-style="italic">A</tspan><tspan x="1564.00" dy="5.00" font-size="29.0" font-family='"Liberation Sans", sans-serif' font-weight="bold" textLength="22.50" lengthAdjust="spacingAndGlyphs">=</tspan><tspan dy="-5.00" font-size="1"> </tspan><tspan font-size="35.5"><tspan x="1586.60">1</tspan><tspan x="1603.40">.</tspan><tspan x="1620.60">0</tspan></tspan></text>
<rect x="309.20" y="1608.20" width="45.70" height="33.60" fill="#fdebe9"/>
<text x="308.90" y="1627.60" font-family='"Liberation Sans", sans-serif' font-size="33.2"><tspan font-style="italic">r</tspan><tspan font-size="29.7" dy="8.4">ph</tspan></text>
<g clip-path="url(#c3)" fill="none" stroke-width="4.00" stroke-linejoin="miter" stroke-miterlimit="2.5">
<path d="M115.2,1662.0L386.4,1662.0L386.4,1439.0L390.8,1205.1L392.9,1109.7L394.8,1054.1L395.8,1031.3L396.9,1015.4L398.0,1005.7L398.7,1002.2L399.5,1000.8L399.8,1000.9L400.5,1002.2L401.3,1005.0L402.0,1009.1L403.4,1020.5L404.9,1035.2L407.8,1070.9L415.4,1175.3L419.4,1226.8L423.7,1277.6L428.1,1322.5L432.4,1361.7L437.1,1398.4L441.8,1430.0L446.9,1459.0L449.8,1473.6L453.0,1488.6L456.3,1502.1L459.9,1515.6L463.5,1527.7L467.2,1538.6L471.2,1549.4L475.1,1559.0L479.5,1568.3L483.8,1576.7L488.5,1584.7L493.6,1592.3L499.4,1599.8L504.1,1605.2L508.8,1610.1L515.9,1616.4L520.6,1620.1L527.6,1625.0L532.3,1627.8L539.4,1631.6L546.4,1634.9L553.5,1637.8L560.5,1640.3L569.9,1643.1L579.3,1645.5L588.7,1647.6L598.2,1649.3L609.9,1651.1L621.7,1652.6L633.4,1653.9L661.6,1656.2L692.2,1657.8L727.5,1659.1L769.8,1660.0L819.2,1660.7L880.3,1661.2L957.9,1661.5L1197.8,1661.9" stroke="#ff0000"/>
<path d="M115.2,1662.0L403.8,1662.0L403.8,1439.0L408.2,1205.1L410.3,1109.7L412.1,1054.1L413.2,1031.3L414.3,1015.4L415.4,1005.7L416.1,1002.2L416.9,1000.8L417.2,1000.9L417.9,1002.2L418.7,1005.0L419.4,1009.1L420.8,1020.5L422.3,1035.2L425.2,1070.9L432.8,1175.3L436.8,1226.8L441.1,1277.6L445.5,1322.5L449.8,1361.7L454.5,1398.4L459.2,1430.0L464.3,1459.0L467.2,1473.6L470.4,1488.6L473.7,1502.1L477.3,1515.6L480.9,1527.7L484.6,1538.6L488.5,1549.4L492.5,1559.0L496.9,1568.3L501.2,1576.7L505.9,1584.7L510.6,1591.7L516.7,1599.7L521.3,1605.0L525.8,1609.7L532.7,1616.0L537.3,1619.6L544.2,1624.5L551.1,1628.6L557.9,1632.2L564.8,1635.4L571.7,1638.1L578.6,1640.5L587.8,1643.2L596.9,1645.6L606.1,1647.6L624.5,1650.7L635.9,1652.3L647.4,1653.6L674.9,1655.9L704.7,1657.6L739.1,1658.9L780.4,1659.9L828.6,1660.6L888.2,1661.1L963.9,1661.5L1197.8,1661.9" stroke="#00ff00"/>
<path d="M115.2,1662.0L425.3,1662.0L425.3,1439.0L429.7,1205.1L431.8,1109.7L433.7,1054.1L434.7,1031.3L435.8,1015.4L436.9,1005.7L437.6,1002.2L438.4,1000.8L438.7,1000.9L439.4,1002.2L440.2,1005.0L440.9,1009.1L442.3,1020.5L443.8,1035.2L446.7,1070.9L454.3,1175.3L458.3,1226.8L462.6,1277.6L467.0,1322.5L471.3,1361.7L475.7,1395.8L480.4,1427.7L485.4,1457.1L488.3,1471.9L491.6,1487.0L494.8,1500.6L498.1,1513.0L501.7,1525.4L505.3,1536.5L509.3,1547.5L513.3,1557.3L517.7,1566.9L522.0,1575.3L526.7,1583.5L531.4,1590.7L535.8,1596.7L542.5,1604.7L546.9,1609.3L553.6,1615.4L558.0,1619.0L564.7,1623.8L571.4,1627.9L578.0,1631.5L584.7,1634.6L591.3,1637.4L598.0,1639.8L606.9,1642.6L615.8,1644.9L624.7,1647.0L633.6,1648.7L644.7,1650.5L655.8,1652.1L666.9,1653.4L693.5,1655.7L722.4,1657.4L755.7,1658.8L795.7,1659.8L844.6,1660.6L902.3,1661.1L975.7,1661.5L1197.8,1661.9" stroke="#0000ff"/>
</g>
<path d="M115.20,1662.00 v-7.00 M115.20,941.00 v7.00 M151.29,1662.00 v-7.00 M151.29,941.00 v7.00 M187.37,1662.00 v-7.00 M187.37,941.00 v7.00 M223.46,1662.00 v-7.00 M223.46,941.00 v7.00 M259.55,1662.00 v-7.00 M259.55,941.00 v7.00 M295.63,1662.00 v-7.00 M295.63,941.00 v7.00 M331.72,1662.00 v-7.00 M331.72,941.00 v7.00 M367.81,1662.00 v-7.00 M367.81,941.00 v7.00 M403.89,1662.00 v-7.00 M403.89,941.00 v7.00 M439.98,1662.00 v-7.00 M439.98,941.00 v7.00 M476.07,1662.00 v-7.00 M476.07,941.00 v7.00 M512.15,1662.00 v-7.00 M512.15,941.00 v7.00 M548.24,1662.00 v-7.00 M548.24,941.00 v7.00 M584.33,1662.00 v-7.00 M584.33,941.00 v7.00 M620.41,1662.00 v-7.00 M620.41,941.00 v7.00 M656.50,1662.00 v-7.00 M656.50,941.00 v7.00 M692.59,1662.00 v-7.00 M692.59,941.00 v7.00 M728.67,1662.00 v-7.00 M728.67,941.00 v7.00 M764.76,1662.00 v-7.00 M764.76,941.00 v7.00 M800.85,1662.00 v-7.00 M800.85,941.00 v7.00 M836.93,1662.00 v-7.00 M836.93,941.00 v7.00 M873.02,1662.00 v-7.00 M873.02,941.00 v7.00 M909.11,1662.00 v-7.00 M909.11,941.00 v7.00 M945.19,1662.00 v-7.00 M945.19,941.00 v7.00 M981.28,1662.00 v-7.00 M981.28,941.00 v7.00 M1017.37,1662.00 v-7.00 M1017.37,941.00 v7.00 M1053.45,1662.00 v-7.00 M1053.45,941.00 v7.00 M1089.54,1662.00 v-7.00 M1089.54,941.00 v7.00 M1125.63,1662.00 v-7.00 M1125.63,941.00 v7.00 M1161.71,1662.00 v-7.00 M1161.71,941.00 v7.00 M1197.80,1662.00 v-7.00 M1197.80,941.00 v7.00 M115.20,1662.00 v-11.50 M115.20,941.00 v11.50 M259.55,1662.00 v-11.50 M259.55,941.00 v11.50 M403.89,1662.00 v-11.50 M403.89,941.00 v11.50 M548.24,1662.00 v-11.50 M548.24,941.00 v11.50 M692.59,1662.00 v-11.50 M692.59,941.00 v11.50 M836.93,1662.00 v-11.50 M836.93,941.00 v11.50 M981.28,1662.00 v-11.50 M981.28,941.00 v11.50 M1125.63,1662.00 v-11.50 M1125.63,941.00 v11.50 M115.20,1662.00 h7.00 M1197.80,1662.00 h-7.00 M115.20,1641.40 h7.00 M1197.80,1641.40 h-7.00 M115.20,1620.80 h7.00 M1197.80,1620.80 h-7.00 M115.20,1600.20 h7.00 M1197.80,1600.20 h-7.00 M115.20,1579.60 h7.00 M1197.80,1579.60 h-7.00 M115.20,1559.00 h7.00 M1197.80,1559.00 h-7.00 M115.20,1538.40 h7.00 M1197.80,1538.40 h-7.00 M115.20,1517.80 h7.00 M1197.80,1517.80 h-7.00 M115.20,1497.20 h7.00 M1197.80,1497.20 h-7.00 M115.20,1476.60 h7.00 M1197.80,1476.60 h-7.00 M115.20,1456.00 h7.00 M1197.80,1456.00 h-7.00 M115.20,1435.40 h7.00 M1197.80,1435.40 h-7.00 M115.20,1414.80 h7.00 M1197.80,1414.80 h-7.00 M115.20,1394.20 h7.00 M1197.80,1394.20 h-7.00 M115.20,1373.60 h7.00 M1197.80,1373.60 h-7.00 M115.20,1353.00 h7.00 M1197.80,1353.00 h-7.00 M115.20,1332.40 h7.00 M1197.80,1332.40 h-7.00 M115.20,1311.80 h7.00 M1197.80,1311.80 h-7.00 M115.20,1291.20 h7.00 M1197.80,1291.20 h-7.00 M115.20,1270.60 h7.00 M1197.80,1270.60 h-7.00 M115.20,1250.00 h7.00 M1197.80,1250.00 h-7.00 M115.20,1229.40 h7.00 M1197.80,1229.40 h-7.00 M115.20,1208.80 h7.00 M1197.80,1208.80 h-7.00 M115.20,1188.20 h7.00 M1197.80,1188.20 h-7.00 M115.20,1167.60 h7.00 M1197.80,1167.60 h-7.00 M115.20,1147.00 h7.00 M1197.80,1147.00 h-7.00 M115.20,1126.40 h7.00 M1197.80,1126.40 h-7.00 M115.20,1105.80 h7.00 M1197.80,1105.80 h-7.00 M115.20,1085.20 h7.00 M1197.80,1085.20 h-7.00 M115.20,1064.60 h7.00 M1197.80,1064.60 h-7.00 M115.20,1044.00 h7.00 M1197.80,1044.00 h-7.00 M115.20,1023.40 h7.00 M1197.80,1023.40 h-7.00 M115.20,1002.80 h7.00 M1197.80,1002.80 h-7.00 M115.20,982.20 h7.00 M1197.80,982.20 h-7.00 M115.20,961.60 h7.00 M1197.80,961.60 h-7.00 M115.20,941.00 h7.00 M1197.80,941.00 h-7.00 M115.20,1662.00 h11.50 M1197.80,1662.00 h-11.50 M115.20,1559.00 h11.50 M1197.80,1559.00 h-11.50 M115.20,1456.00 h11.50 M1197.80,1456.00 h-11.50 M115.20,1353.00 h11.50 M1197.80,1353.00 h-11.50 M115.20,1250.00 h11.50 M1197.80,1250.00 h-11.50 M115.20,1147.00 h11.50 M1197.80,1147.00 h-11.50 M115.20,1044.00 h11.50 M1197.80,1044.00 h-11.50 M115.20,941.00 h11.50 M1197.80,941.00 h-11.50" stroke="#000" stroke-width="3" fill="none"/>
<rect x="115.20" y="941.00" width="1082.60" height="721.00" fill="none" stroke="#000" stroke-width="3.8"/>
<g font-family='"Liberation Sans", sans-serif' font-size="32.5" fill="#000">
<text x="115.20" y="1702.40" text-anchor="middle">0</text>
<text x="259.55" y="1702.40" text-anchor="middle">2</text>
<text x="403.89" y="1702.40" text-anchor="middle">4</text>
<text x="548.24" y="1702.40" text-anchor="middle">6</text>
<text x="692.59" y="1702.40" text-anchor="middle">8</text>
<text x="836.93" y="1702.40" text-anchor="middle">10</text>
<text x="981.28" y="1702.40" text-anchor="middle">12</text>
<text x="1125.63" y="1702.40" text-anchor="middle">14</text>
<text x="104.90" y="1673.00" text-anchor="end">0.0</text>
<text x="104.90" y="1570.00" text-anchor="end">0.5</text>
<text x="104.90" y="1467.00" text-anchor="end">1.0</text>
<text x="104.90" y="1364.00" text-anchor="end">1.5</text>
<text x="104.90" y="1261.00" text-anchor="end">2.0</text>
<text x="104.90" y="1158.00" text-anchor="end">2.5</text>
<text x="104.90" y="1055.00" text-anchor="end">3.0</text>
<text x="104.90" y="952.00" text-anchor="end">3.5</text>
<text x="656.00" y="915.10" text-anchor="middle" font-size="33.3">Case II</text>
</g>
<text x="656.00" y="1758.00" text-anchor="middle" font-family='"Liberation Sans", sans-serif' font-size="33.5" font-style="italic">r</text>
<g transform="translate(30.10,1301.50) rotate(-90)"><text text-anchor="middle" font-family='"Liberation Sans", sans-serif' font-size="33.5" x="0" y="0"><tspan font-style="italic">I</tspan><tspan font-size="32" dy="8">em</tspan><tspan dy="-8">(</tspan><tspan font-style="italic">r</tspan>)</text></g>
<rect x="848.80" y="1000.80" width="265" height="240" fill="#fff" stroke="#000" stroke-width="2.2"/>
<line x1="880.00" y1="1054.80" x2="946.20" y2="1054.80" stroke="#ff0000" stroke-width="5"/>
<text y="1065.80" fill="#000" font-family='"Liberation Serif", serif'><tspan x="960.10" font-size="42.0" font-style="italic">A</tspan><tspan x="987.90" dy="5.00" font-size="29.0" font-family='"Liberation Sans", sans-serif' font-weight="bold" textLength="22.50" lengthAdjust="spacingAndGlyphs">=</tspan><tspan dy="-5.00" font-size="1"> </tspan><tspan font-size="35.5"><tspan x="1010.50">0</tspan><tspan x="1027.30">.</tspan><tspan x="1044.50">1</tspan></tspan></text>
<line x1="880.00" y1="1120.10" x2="946.20" y2="1120.10" stroke="#00ff00" stroke-width="5"/>
<text y="1131.10" fill="#000" font-family='"Liberation Serif", serif'><tspan x="960.10" font-size="42.0" font-style="italic">A</tspan><tspan x="987.90" dy="5.00" font-size="29.0" font-family='"Liberation Sans", sans-serif' font-weight="bold" textLength="22.50" lengthAdjust="spacingAndGlyphs">=</tspan><tspan dy="-5.00" font-size="1"> </tspan><tspan font-size="35.5"><tspan x="1010.50">0</tspan><tspan x="1027.30">.</tspan><tspan x="1044.50">1</tspan><tspan x="1061.20">5</tspan></tspan></text>
<line x1="880.00" y1="1186.00" x2="946.20" y2="1186.00" stroke="#0000ff" stroke-width="5"/>
<text y="1197.00" fill="#000" font-family='"Liberation Serif", serif'><tspan x="960.10" font-size="42.0" font-style="italic">A</tspan><tspan x="987.90" dy="5.00" font-size="29.0" font-family='"Liberation Sans", sans-serif' font-weight="bold" textLength="22.50" lengthAdjust="spacingAndGlyphs">=</tspan><tspan dy="-5.00" font-size="1"> </tspan><tspan font-size="35.5"><tspan x="1010.50">1</tspan><tspan x="1027.30">.</tspan><tspan x="1044.50">0</tspan></tspan></text>
<g clip-path="url(#c4)" fill="none" stroke-width="4.00" stroke-linejoin="miter" stroke-miterlimit="2.5">
<path d="M1347.3,1663.3L1729.0,1663.3L1729.0,1599.0L1735.5,1517.5L1737.8,1491.2L1739.3,1476.5L1740.9,1464.5L1742.4,1454.8L1744.0,1446.7L1745.7,1440.4L1747.4,1436.3L1748.4,1434.7L1749.4,1433.7L1750.4,1433.0L1751.5,1432.8L1752.4,1433.0L1753.4,1433.4L1755.7,1435.5L1758.0,1438.7L1760.9,1443.9L1765.8,1454.3L1779.1,1485.2L1786.6,1501.7L1794.8,1518.1L1803.2,1533.5L1811.4,1546.8L1819.8,1559.2L1828.6,1570.8L1838.1,1582.0L1848.5,1593.0L1853.0,1597.3L1857.9,1601.5L1863.1,1605.7L1868.3,1609.5L1873.9,1613.2L1879.7,1616.8L1885.9,1620.3L1892.1,1623.4L1898.9,1626.6L1905.8,1629.5L1920.4,1635.0L1936.7,1640.0L1936.7,1429.1L1940.3,1302.9L1942.5,1204.9L1943.0,1190.6L1943.5,1186.3L1943.8,1192.5L1944.2,1212.1L1945.8,1343.8L1946.3,1364.3L1946.9,1383.1L1948.3,1412.9L1950.5,1445.6L1952.6,1470.4L1955.3,1495.1L1959.1,1524.3L1962.7,1546.5L1965.0,1558.6L1967.2,1569.3L1969.5,1578.7L1971.4,1585.6L1974.0,1593.6L1976.6,1600.5L1979.6,1607.1L1982.5,1612.9L1985.7,1618.4L1989.3,1623.6L1992.9,1628.0L1997.1,1632.6L2000.4,1635.7L2003.6,1638.5L2007.2,1641.1L2010.8,1643.4L2014.3,1645.5L2018.6,1647.5L2023.1,1649.4L2027.7,1651.0L2032.9,1652.6L2038.1,1654.0L2049.8,1656.3L2061.1,1657.8L2077.7,1659.3L2094.0,1660.2L2112.5,1661.0L2138.5,1661.5L2170.6,1662.0L2271.0,1662.7L2418.9,1663.0" stroke="#ff0000"/>
<path d="M1347.3,1663.3L1751.2,1663.3L1751.2,1591.9L1757.5,1500.5L1759.9,1470.0L1761.4,1453.7L1762.9,1440.1L1764.4,1429.1L1766.0,1420.0L1767.6,1413.4L1769.4,1408.7L1770.3,1407.0L1771.3,1405.8L1772.3,1405.2L1773.3,1404.9L1774.3,1405.1L1775.2,1405.6L1776.2,1406.4L1777.5,1407.9L1779.8,1411.4L1782.7,1417.2L1787.6,1428.8L1801.3,1464.2L1808.7,1482.6L1817.2,1501.7L1826.0,1519.7L1834.4,1535.2L1843.2,1549.8L1852.3,1563.4L1862.1,1576.5L1871.9,1588.3L1876.4,1593.1L1881.0,1597.6L1886.2,1602.3L1891.4,1606.6L1896.9,1610.8L1902.4,1614.6L1908.3,1618.3L1914.5,1621.8L1921.0,1625.2L1927.5,1628.2L1934.7,1631.2L1941.8,1634.0L1949.3,1636.6L1957.1,1639.0L1957.1,1420.5L1960.0,1270.4L1961.6,1174.3L1962.1,1157.3L1962.5,1151.3L1962.8,1157.3L1963.3,1178.4L1965.1,1320.3L1966.1,1366.5L1967.1,1391.1L1968.5,1413.5L1971.2,1448.6L1973.6,1473.6L1977.3,1504.7L1981.2,1531.9L1985.4,1555.4L1987.7,1566.1L1990.3,1577.0L1992.9,1586.7L1995.5,1595.5L1998.1,1603.2L2000.7,1609.8L2002.9,1614.6L2005.9,1619.7L2009.1,1624.5L2012.7,1628.9L2015.6,1632.0L2018.9,1635.0L2022.4,1637.9L2026.3,1640.7L2030.2,1643.1L2034.5,1645.4L2038.7,1647.4L2043.2,1649.2L2048.1,1650.9L2053.6,1652.4L2065.3,1655.0L2078.0,1657.0L2093.6,1658.6L2110.2,1659.7L2128.7,1660.6L2152.4,1661.2L2182.6,1661.8L2281.8,1662.6L2418.9,1663.0" stroke="#00ff00"/>
<path d="M1347.3,1663.3L1775.9,1663.3L1775.9,1577.6L1781.8,1477.9L1783.9,1445.2L1785.4,1426.1L1786.8,1410.3L1788.3,1397.1L1789.8,1386.6L1791.4,1378.6L1793.1,1373.3L1793.9,1371.4L1794.8,1370.0L1795.8,1369.2L1796.8,1368.8L1797.7,1369.0L1798.7,1369.6L1800.7,1372.0L1802.9,1376.2L1805.5,1382.3L1810.1,1395.1L1823.1,1435.0L1830.6,1456.7L1839.0,1479.0L1847.5,1499.1L1856.0,1517.2L1865.1,1534.7L1874.5,1551.0L1884.6,1566.7L1889.8,1574.1L1894.0,1579.8L1898.6,1585.4L1903.5,1591.0L1908.3,1596.0L1913.5,1600.9L1919.1,1605.6L1924.6,1609.9L1930.5,1614.1L1936.6,1618.1L1943.1,1621.8L1949.7,1625.2L1956.5,1628.5L1963.6,1631.5L1971.1,1634.4L1979.3,1637.2L1979.3,1377.7L1981.3,1222.6L1982.4,1115.1L1982.8,1094.9L1983.4,1116.7L1984.9,1276.1L1985.7,1331.0L1986.9,1363.0L1988.3,1389.2L1989.7,1408.5L1994.1,1461.5L1997.2,1492.4L2000.7,1519.5L2004.6,1544.0L2008.8,1564.9L2011.5,1575.8L2014.4,1586.8L2017.0,1595.5L2019.6,1603.2L2022.2,1609.8L2024.8,1615.2L2027.7,1620.2L2031.0,1624.9L2033.9,1628.4L2037.1,1631.9L2040.7,1635.3L2044.9,1638.8L2048.8,1641.8L2052.4,1644.3L2056.3,1646.6L2060.2,1648.5L2063.8,1650.0L2067.7,1651.3L2078.1,1653.9L2089.8,1656.0L2103.5,1657.6L2120.4,1659.0L2141.2,1660.1L2164.9,1660.9L2193.2,1661.6L2280.7,1662.4L2418.9,1662.9" stroke="#0000ff"/>
</g>
<path d="M1347.30,1663.30 v-7.00 M1347.30,949.20 v7.00 M1383.02,1663.30 v-7.00 M1383.02,949.20 v7.00 M1418.74,1663.30 v-7.00 M1418.74,949.20 v7.00 M1454.46,1663.30 v-7.00 M1454.46,949.20 v7.00 M1490.18,1663.30 v-7.00 M1490.18,949.20 v7.00 M1525.90,1663.30 v-7.00 M1525.90,949.20 v7.00 M1561.62,1663.30 v-7.00 M1561.62,949.20 v7.00 M1597.34,1663.30 v-7.00 M1597.34,949.20 v7.00 M1633.06,1663.30 v-7.00 M1633.06,949.20 v7.00 M1668.78,1663.30 v-7.00 M1668.78,949.20 v7.00 M1704.50,1663.30 v-7.00 M1704.50,949.20 v7.00 M1740.22,1663.30 v-7.00 M1740.22,949.20 v7.00 M1775.94,1663.30 v-7.00 M1775.94,949.20 v7.00 M1811.66,1663.30 v-7.00 M1811.66,949.20 v7.00 M1847.38,1663.30 v-7.00 M1847.38,949.20 v7.00 M1883.10,1663.30 v-7.00 M1883.10,949.20 v7.00 M1918.82,1663.30 v-7.00 M1918.82,949.20 v7.00 M1954.54,1663.30 v-7.00 M1954.54,949.20 v7.00 M1990.26,1663.30 v-7.00 M1990.26,949.20 v7.00 M2025.98,1663.30 v-7.00 M2025.98,949.20 v7.00 M2061.70,1663.30 v-7.00 M2061.70,949.20 v7.00 M2097.42,1663.30 v-7.00 M2097.42,949.20 v7.00 M2133.14,1663.30 v-7.00 M2133.14,949.20 v7.00 M2168.86,1663.30 v-7.00 M2168.86,949.20 v7.00 M2204.58,1663.30 v-7.00 M2204.58,949.20 v7.00 M2240.30,1663.30 v-7.00 M2240.30,949.20 v7.00 M2276.02,1663.30 v-7.00 M2276.02,949.20 v7.00 M2311.74,1663.30 v-7.00 M2311.74,949.20 v7.00 M2347.46,1663.30 v-7.00 M2347.46,949.20 v7.00 M2383.18,1663.30 v-7.00 M2383.18,949.20 v7.00 M2418.90,1663.30 v-7.00 M2418.90,949.20 v7.00 M1347.30,1663.30 v-11.50 M1347.30,949.20 v11.50 M1490.18,1663.30 v-11.50 M1490.18,949.20 v11.50 M1633.06,1663.30 v-11.50 M1633.06,949.20 v11.50 M1775.94,1663.30 v-11.50 M1775.94,949.20 v11.50 M1918.82,1663.30 v-11.50 M1918.82,949.20 v11.50 M2061.70,1663.30 v-11.50 M2061.70,949.20 v11.50 M2204.58,1663.30 v-11.50 M2204.58,949.20 v11.50 M2347.46,1663.30 v-11.50 M2347.46,949.20 v11.50 M1347.30,1663.30 h7.00 M2418.90,1663.30 h-7.00 M1347.30,1634.74 h7.00 M2418.90,1634.74 h-7.00 M1347.30,1606.17 h7.00 M2418.90,1606.17 h-7.00 M1347.30,1577.61 h7.00 M2418.90,1577.61 h-7.00 M1347.30,1549.04 h7.00 M2418.90,1549.04 h-7.00 M1347.30,1520.48 h7.00 M2418.90,1520.48 h-7.00 M1347.30,1491.92 h7.00 M2418.90,1491.92 h-7.00 M1347.30,1463.35 h7.00 M2418.90,1463.35 h-7.00 M1347.30,1434.79 h7.00 M2418.90,1434.79 h-7.00 M1347.30,1406.22 h7.00 M2418.90,1406.22 h-7.00 M1347.30,1377.66 h7.00 M2418.90,1377.66 h-7.00 M1347.30,1349.10 h7.00 M2418.90,1349.10 h-7.00 M1347.30,1320.53 h7.00 M2418.90,1320.53 h-7.00 M1347.30,1291.97 h7.00 M2418.90,1291.97 h-7.00 M1347.30,1263.40 h7.00 M2418.90,1263.40 h-7.00 M1347.30,1234.84 h7.00 M2418.90,1234.84 h-7.00 M1347.30,1206.28 h7.00 M2418.90,1206.28 h-7.00 M1347.30,1177.71 h7.00 M2418.90,1177.71 h-7.00 M1347.30,1149.15 h7.00 M2418.90,1149.15 h-7.00 M1347.30,1120.58 h7.00 M2418.90,1120.58 h-7.00 M1347.30,1092.02 h7.00 M2418.90,1092.02 h-7.00 M1347.30,1063.46 h7.00 M2418.90,1063.46 h-7.00 M1347.30,1034.89 h7.00 M2418.90,1034.89 h-7.00 M1347.30,1006.33 h7.00 M2418.90,1006.33 h-7.00 M1347.30,977.76 h7.00 M2418.90,977.76 h-7.00 M1347.30,949.20 h7.00 M2418.90,949.20 h-7.00 M1347.30,1663.30 h11.50 M2418.90,1663.30 h-11.50 M1347.30,1520.48 h11.50 M2418.90,1520.48 h-11.50 M1347.30,1377.66 h11.50 M2418.90,1377.66 h-11.50 M1347.30,1234.84 h11.50 M2418.90,1234.84 h-11.50 M1347.30,1092.02 h11.50 M2418.90,1092.02 h-11.50 M1347.30,949.20 h11.50 M2418.90,949.20 h-11.50" stroke="#000" stroke-width="3" fill="none"/>
<rect x="1347.30" y="949.20" width="1071.60" height="714.10" fill="none" stroke="#000" stroke-width="3.8"/>
<g font-family='"Liberation Sans", sans-serif' font-size="32.5" fill="#000">
<text x="1347.30" y="1703.70" text-anchor="middle">0</text>
<text x="1490.18" y="1703.70" text-anchor="middle">2</text>
<text x="1633.06" y="1703.70" text-anchor="middle">4</text>
<text x="1775.94" y="1703.70" text-anchor="middle">6</text>
<text x="1918.82" y="1703.70" text-anchor="middle">8</text>
<text x="2061.70" y="1703.70" text-anchor="middle">10</text>
<text x="2204.58" y="1703.70" text-anchor="middle">12</text>
<text x="2347.46" y="1703.70" text-anchor="middle">14</text>
<text x="1337.00" y="1674.30" text-anchor="end">0.0</text>
<text x="1337.00" y="1531.48" text-anchor="end">0.1</text>
<text x="1337.00" y="1388.66" text-anchor="end">0.2</text>
<text x="1337.00" y="1245.84" text-anchor="end">0.3</text>
<text x="1337.00" y="1103.02" text-anchor="end">0.4</text>
<text x="1337.00" y="960.20" text-anchor="end">0.5</text>
<text x="1882.60" y="923.70" text-anchor="middle" font-size="33.3">Case II</text>
</g>
<text x="1882.60" y="1759.30" text-anchor="middle" font-family='"Liberation Sans", sans-serif' font-size="33.5" font-style="italic">b</text>
<g transform="translate(1261.00,1306.25) rotate(-90)"><text text-anchor="middle" font-family='"Liberation Sans", sans-serif' font-size="33.5" x="0" y="0"><tspan font-style="italic">f</tspan><tspan dx="2.4">(</tspan><tspan font-style="italic">r</tspan><tspan font-size="29.7" font-style="italic" dx="1.4" dy="8.5">O</tspan><tspan dy="-8.5">)</tspan><tspan font-size="29.7" dy="-15.9">2</tspan><tspan dy="15.9" dx="2.3" font-style="italic">I</tspan><tspan font-size="29.7" dy="8.5">obs</tspan><tspan dy="-8.5">(</tspan><tspan font-style="italic">b</tspan><tspan dx="1.2">)</tspan></text></g>
<rect x="2072.40" y="1007.90" width="265" height="240" fill="#fff" stroke="#000" stroke-width="2.2"/>
<line x1="2103.60" y1="1061.90" x2="2169.80" y2="1061.90" stroke="#ff0000" stroke-width="5"/>
<text y="1072.90" fill="#000" font-family='"Liberation Serif", serif'><tspan x="2183.70" font-size="42.0" font-style="italic">A</tspan><tspan x="2211.50" dy="5.00" font-size="29.0" font-family='"Liberation Sans", sans-serif' font-weight="bold" textLength="22.50" lengthAdjust="spacingAndGlyphs">=</tspan><tspan dy="-5.00" font-size="1"> </tspan><tspan font-size="35.5"><tspan x="2234.10">0</tspan><tspan x="2250.90">.</tspan><tspan x="2268.10">1</tspan></tspan></text>
<line x1="2103.60" y1="1127.20" x2="2169.80" y2="1127.20" stroke="#00ff00" stroke-width="5"/>
<text y="1138.20" fill="#000" font-family='"Liberation Serif", serif'><tspan x="2183.70" font-size="42.0" font-style="italic">A</tspan><tspan x="2211.50" dy="5.00" font-size="29.0" font-family='"Liberation Sans", sans-serif' font-weight="bold" textLength="22.50" lengthAdjust="spacingAndGlyphs">=</tspan><tspan dy="-5.00" font-size="1"> </tspan><tspan font-size="35.5"><tspan x="2234.10">0</tspan><tspan x="2250.90">.</tspan><tspan x="2268.10">1</tspan><tspan x="2284.80">5</tspan></tspan></text>
<line x1="2103.60" y1="1193.10" x2="2169.80" y2="1193.10" stroke="#0000ff" stroke-width="5"/>
<text y="1204.10" fill="#000" font-family='"Liberation Serif", serif'><tspan x="2183.70" font-size="42.0" font-style="italic">A</tspan><tspan x="2211.50" dy="5.00" font-size="29.0" font-family='"Liberation Sans", sans-serif' font-weight="bold" textLength="22.50" lengthAdjust="spacingAndGlyphs">=</tspan><tspan dy="-5.00" font-size="1"> </tspan><tspan font-size="35.5"><tspan x="2234.10">1</tspan><tspan x="2250.90">.</tspan><tspan x="2268.10">0</tspan></tspan></text>
<rect x="230.80" y="2494.10" width="28.90" height="27.10" fill="#fdebe9"/>
<text x="230.40" y="2513.10" font-family='"Liberation Sans", sans-serif' font-size="33.2"><tspan font-style="italic">r</tspan><tspan font-size="29.7" dy="8.4" font-style="italic">h</tspan></text>
<g clip-path="url(#c5)" fill="none" stroke-width="4.00" stroke-linejoin="miter" stroke-miterlimit="2.5">
<path d="M115.2,2536.9L278.6,2536.9L278.6,2494.2L280.0,2469.7L281.9,2427.9L283.7,2375.9L290.5,2160.8L293.1,2095.9L296.0,2036.4L297.8,2006.7L299.6,1982.2L301.4,1962.5L303.6,1944.5L305.8,1931.6L306.8,1926.9L307.9,1923.1L309.0,1920.3L310.1,1918.4L311.2,1917.2L311.9,1916.9L312.6,1916.8L314.1,1917.4L315.5,1919.1L317.0,1921.6L318.8,1925.7L320.6,1930.9L322.4,1936.9L326.4,1952.5L333.3,1984.1L349.6,2065.9L358.3,2107.7L367.7,2149.5L376.7,2186.1L384.3,2214.0L392.3,2240.6L400.4,2265.3L405.8,2280.4L411.3,2294.5L416.7,2307.7L422.1,2320.0L427.5,2331.6L435.7,2347.5L441.1,2357.3L446.5,2366.5L452.0,2375.1L460.1,2387.0L465.5,2394.4L473.6,2404.6L481.8,2413.9L489.9,2422.4L498.1,2430.2L506.2,2437.3L514.3,2443.9L525.2,2451.8L533.3,2457.2L544.2,2463.7L552.3,2468.2L563.2,2473.6L574.0,2478.5L584.8,2483.0L595.7,2487.0L609.3,2491.6L622.8,2495.6L636.4,2499.2L649.9,2502.4L663.5,2505.3L677.1,2507.8L693.3,2510.6L709.6,2513.1L728.6,2515.6L747.6,2517.8L766.6,2519.7L807.2,2523.1L853.4,2526.0L904.9,2528.4L961.8,2530.3L1029.6,2532.0L1108.3,2533.3L1197.8,2534.3" stroke="#ff0000"/>
<path d="M115.2,2536.9L298.7,2536.9L298.7,2494.2L300.2,2469.7L302.0,2427.9L303.8,2375.9L310.7,2160.8L313.2,2095.9L316.1,2036.4L317.9,2006.7L319.7,1982.2L321.5,1962.5L323.7,1944.5L325.9,1931.6L327.0,1926.9L328.1,1923.1L329.2,1920.3L330.2,1918.4L331.3,1917.2L332.0,1916.9L332.8,1916.8L334.2,1917.4L335.7,1919.1L337.1,1921.6L338.9,1925.7L340.7,1930.9L342.5,1936.9L346.5,1952.5L353.4,1984.1L369.7,2065.9L378.4,2107.7L387.8,2149.5L396.9,2186.1L404.5,2214.0L412.3,2240.2L420.2,2264.3L425.5,2279.1L430.8,2293.0L436.1,2305.9L441.4,2318.1L446.7,2329.5L454.6,2345.2L459.9,2354.9L465.2,2364.0L470.5,2372.6L478.4,2384.5L483.7,2391.8L491.6,2402.0L499.6,2411.3L507.5,2419.8L515.4,2427.6L523.4,2434.8L531.3,2441.4L541.9,2449.4L549.8,2454.8L560.4,2461.4L571.0,2467.4L581.6,2472.8L592.1,2477.7L602.7,2482.1L613.3,2486.1L626.5,2490.6L639.7,2494.7L653.0,2498.3L666.2,2501.5L679.4,2504.4L692.6,2507.0L708.5,2509.8L724.4,2512.3L742.9,2514.8L761.4,2517.1L779.9,2519.0L819.6,2522.5L864.6,2525.5L914.8,2527.9L970.3,2530.0L1036.5,2531.7L1110.5,2533.0L1197.8,2534.1" stroke="#00ff00"/>
<path d="M115.2,2536.9L321.4,2536.9L321.4,2494.2L322.8,2469.7L324.7,2427.9L326.5,2375.9L333.3,2160.8L335.9,2095.9L338.8,2036.4L340.6,2006.7L342.4,1982.2L344.2,1962.5L346.4,1944.5L348.6,1931.6L349.6,1926.9L350.7,1923.1L351.8,1920.3L352.9,1918.4L354.0,1917.2L354.7,1916.9L355.4,1916.8L356.9,1917.4L358.3,1919.1L359.8,1921.6L361.6,1925.7L363.4,1930.9L365.2,1936.9L369.2,1952.5L376.1,1984.1L392.4,2065.9L401.1,2107.7L410.1,2148.0L419.2,2184.7L426.8,2212.7L434.8,2239.7L442.5,2263.2L447.6,2277.7L452.8,2291.2L457.9,2303.9L463.1,2315.9L468.2,2327.1L475.9,2342.6L481.0,2352.2L488.7,2365.5L493.9,2373.8L501.6,2385.2L506.7,2392.3L514.4,2402.1L522.1,2411.2L529.9,2419.5L537.6,2427.1L545.3,2434.1L553.0,2440.6L563.2,2448.4L571.0,2453.8L581.2,2460.3L591.5,2466.3L601.8,2471.6L612.1,2476.5L622.3,2480.9L632.6,2484.9L645.5,2489.4L658.3,2493.5L671.1,2497.1L684.0,2500.4L696.8,2503.3L709.7,2505.9L725.1,2508.8L740.5,2511.3L758.5,2513.9L776.5,2516.2L794.5,2518.2L833.0,2521.8L876.7,2524.8L925.5,2527.4L982.0,2529.6L1043.7,2531.3L1115.6,2532.8L1197.8,2533.9" stroke="#0000ff"/>
</g>
<path d="M115.20,2536.90 v-7.00 M115.20,1816.10 v7.00 M151.29,2536.90 v-7.00 M151.29,1816.10 v7.00 M187.37,2536.90 v-7.00 M187.37,1816.10 v7.00 M223.46,2536.90 v-7.00 M223.46,1816.10 v7.00 M259.55,2536.90 v-7.00 M259.55,1816.10 v7.00 M295.63,2536.90 v-7.00 M295.63,1816.10 v7.00 M331.72,2536.90 v-7.00 M331.72,1816.10 v7.00 M367.81,2536.90 v-7.00 M367.81,1816.10 v7.00 M403.89,2536.90 v-7.00 M403.89,1816.10 v7.00 M439.98,2536.90 v-7.00 M439.98,1816.10 v7.00 M476.07,2536.90 v-7.00 M476.07,1816.10 v7.00 M512.15,2536.90 v-7.00 M512.15,1816.10 v7.00 M548.24,2536.90 v-7.00 M548.24,1816.10 v7.00 M584.33,2536.90 v-7.00 M584.33,1816.10 v7.00 M620.41,2536.90 v-7.00 M620.41,1816.10 v7.00 M656.50,2536.90 v-7.00 M656.50,1816.10 v7.00 M692.59,2536.90 v-7.00 M692.59,1816.10 v7.00 M728.67,2536.90 v-7.00 M728.67,1816.10 v7.00 M764.76,2536.90 v-7.00 M764.76,1816.10 v7.00 M800.85,2536.90 v-7.00 M800.85,1816.10 v7.00 M836.93,2536.90 v-7.00 M836.93,1816.10 v7.00 M873.02,2536.90 v-7.00 M873.02,1816.10 v7.00 M909.11,2536.90 v-7.00 M909.11,1816.10 v7.00 M945.19,2536.90 v-7.00 M945.19,1816.10 v7.00 M981.28,2536.90 v-7.00 M981.28,1816.10 v7.00 M1017.37,2536.90 v-7.00 M1017.37,1816.10 v7.00 M1053.45,2536.90 v-7.00 M1053.45,1816.10 v7.00 M1089.54,2536.90 v-7.00 M1089.54,1816.10 v7.00 M1125.63,2536.90 v-7.00 M1125.63,1816.10 v7.00 M1161.71,2536.90 v-7.00 M1161.71,1816.10 v7.00 M1197.80,2536.90 v-7.00 M1197.80,1816.10 v7.00 M115.20,2536.90 v-11.50 M115.20,1816.10 v11.50 M259.55,2536.90 v-11.50 M259.55,1816.10 v11.50 M403.89,2536.90 v-11.50 M403.89,1816.10 v11.50 M548.24,2536.90 v-11.50 M548.24,1816.10 v11.50 M692.59,2536.90 v-11.50 M692.59,1816.10 v11.50 M836.93,2536.90 v-11.50 M836.93,1816.10 v11.50 M981.28,2536.90 v-11.50 M981.28,1816.10 v11.50 M1125.63,2536.90 v-11.50 M1125.63,1816.10 v11.50 M115.20,2536.90 h7.00 M1197.80,2536.90 h-7.00 M115.20,2512.87 h7.00 M1197.80,2512.87 h-7.00 M115.20,2488.85 h7.00 M1197.80,2488.85 h-7.00 M115.20,2464.82 h7.00 M1197.80,2464.82 h-7.00 M115.20,2440.79 h7.00 M1197.80,2440.79 h-7.00 M115.20,2416.77 h7.00 M1197.80,2416.77 h-7.00 M115.20,2392.74 h7.00 M1197.80,2392.74 h-7.00 M115.20,2368.71 h7.00 M1197.80,2368.71 h-7.00 M115.20,2344.69 h7.00 M1197.80,2344.69 h-7.00 M115.20,2320.66 h7.00 M1197.80,2320.66 h-7.00 M115.20,2296.63 h7.00 M1197.80,2296.63 h-7.00 M115.20,2272.61 h7.00 M1197.80,2272.61 h-7.00 M115.20,2248.58 h7.00 M1197.80,2248.58 h-7.00 M115.20,2224.55 h7.00 M1197.80,2224.55 h-7.00 M115.20,2200.53 h7.00 M1197.80,2200.53 h-7.00 M115.20,2176.50 h7.00 M1197.80,2176.50 h-7.00 M115.20,2152.47 h7.00 M1197.80,2152.47 h-7.00 M115.20,2128.45 h7.00 M1197.80,2128.45 h-7.00 M115.20,2104.42 h7.00 M1197.80,2104.42 h-7.00 M115.20,2080.39 h7.00 M1197.80,2080.39 h-7.00 M115.20,2056.37 h7.00 M1197.80,2056.37 h-7.00 M115.20,2032.34 h7.00 M1197.80,2032.34 h-7.00 M115.20,2008.31 h7.00 M1197.80,2008.31 h-7.00 M115.20,1984.29 h7.00 M1197.80,1984.29 h-7.00 M115.20,1960.26 h7.00 M1197.80,1960.26 h-7.00 M115.20,1936.23 h7.00 M1197.80,1936.23 h-7.00 M115.20,1912.21 h7.00 M1197.80,1912.21 h-7.00 M115.20,1888.18 h7.00 M1197.80,1888.18 h-7.00 M115.20,1864.15 h7.00 M1197.80,1864.15 h-7.00 M115.20,1840.13 h7.00 M1197.80,1840.13 h-7.00 M115.20,1816.10 h7.00 M1197.80,1816.10 h-7.00 M115.20,2536.90 h11.50 M1197.80,2536.90 h-11.50 M115.20,2440.79 h11.50 M1197.80,2440.79 h-11.50 M115.20,2344.69 h11.50 M1197.80,2344.69 h-11.50 M115.20,2248.58 h11.50 M1197.80,2248.58 h-11.50 M115.20,2152.47 h11.50 M1197.80,2152.47 h-11.50 M115.20,2056.37 h11.50 M1197.80,2056.37 h-11.50 M115.20,1960.26 h11.50 M1197.80,1960.26 h-11.50 M115.20,1864.15 h11.50 M1197.80,1864.15 h-11.50" stroke="#000" stroke-width="3" fill="none"/>
<rect x="115.20" y="1816.10" width="1082.60" height="720.80" fill="none" stroke="#000" stroke-width="3.8"/>
<g font-family='"Liberation Sans", sans-serif' font-size="32.5" fill="#000">
<text x="115.20" y="2577.30" text-anchor="middle">0</text>
<text x="259.55" y="2577.30" text-anchor="middle">2</text>
<text x="403.89" y="2577.30" text-anchor="middle">4</text>
<text x="548.24" y="2577.30" text-anchor="middle">6</text>
<text x="692.59" y="2577.30" text-anchor="middle">8</text>
<text x="836.93" y="2577.30" text-anchor="middle">10</text>
<text x="981.28" y="2577.30" text-anchor="middle">12</text>
<text x="1125.63" y="2577.30" text-anchor="middle">14</text>
<text x="104.90" y="2547.90" text-anchor="end">0.0</text>
<text x="104.90" y="2451.79" text-anchor="end">0.2</text>
<text x="104.90" y="2355.69" text-anchor="end">0.4</text>
<text x="104.90" y="2259.58" text-anchor="end">0.6</text>
<text x="104.90" y="2163.47" text-anchor="end">0.8</text>
<text x="104.90" y="2067.37" text-anchor="end">1.0</text>
<text x="104.90" y="1971.26" text-anchor="end">1.2</text>
<text x="104.90" y="1875.15" text-anchor="end">1.4</text>
<text x="656.00" y="1806.80" text-anchor="middle" font-size="33.3">Case III</text>
</g>
<text x="656.00" y="2632.90" text-anchor="middle" font-family='"Liberation Sans", sans-serif' font-size="33.5" font-style="italic">r</text>
<g transform="translate(30.10,2176.50) rotate(-90)"><text text-anchor="middle" font-family='"Liberation Sans", sans-serif' font-size="33.5" x="0" y="0"><tspan font-style="italic">I</tspan><tspan font-size="32" dy="8">em</tspan><tspan dy="-8">(</tspan><tspan font-style="italic">r</tspan>)</text></g>
<rect x="848.80" y="1876.20" width="265" height="240" fill="#fff" stroke="#000" stroke-width="2.2"/>
<line x1="880.00" y1="1930.20" x2="946.20" y2="1930.20" stroke="#ff0000" stroke-width="5"/>
<text y="1941.20" fill="#000" font-family='"Liberation Serif", serif'><tspan x="960.10" font-size="42.0" font-style="italic">A</tspan><tspan x="987.90" dy="5.00" font-size="29.0" font-family='"Liberation Sans", sans-serif' font-weight="bold" textLength="22.50" lengthAdjust="spacingAndGlyphs">=</tspan><tspan dy="-5.00" font-size="1"> </tspan><tspan font-size="35.5"><tspan x="1010.50">0</tspan><tspan x="1027.30">.</tspan><tspan x="1044.50">1</tspan></tspan></text>
<line x1="880.00" y1="1995.50" x2="946.20" y2="1995.50" stroke="#00ff00" stroke-width="5"/>
<text y="2006.50" fill="#000" font-family='"Liberation Serif", serif'><tspan x="960.10" font-size="42.0" font-style="italic">A</tspan><tspan x="987.90" dy="5.00" font-size="29.0" font-family='"Liberation Sans", sans-serif' font-weight="bold" textLength="22.50" lengthAdjust="spacingAndGlyphs">=</tspan><tspan dy="-5.00" font-size="1"> </tspan><tspan font-size="35.5"><tspan x="1010.50">0</tspan><tspan x="1027.30">.</tspan><tspan x="1044.50">1</tspan><tspan x="1061.20">5</tspan></tspan></text>
<line x1="880.00" y1="2061.40" x2="946.20" y2="2061.40" stroke="#0000ff" stroke-width="5"/>
<text y="2072.40" fill="#000" font-family='"Liberation Serif", serif'><tspan x="960.10" font-size="42.0" font-style="italic">A</tspan><tspan x="987.90" dy="5.00" font-size="29.0" font-family='"Liberation Sans", sans-serif' font-weight="bold" textLength="22.50" lengthAdjust="spacingAndGlyphs">=</tspan><tspan dy="-5.00" font-size="1"> </tspan><tspan font-size="35.5"><tspan x="1010.50">1</tspan><tspan x="1027.30">.</tspan><tspan x="1044.50">0</tspan></tspan></text>
<g clip-path="url(#c6)" fill="none" stroke-width="4.00" stroke-linejoin="miter" stroke-miterlimit="2.5">
<path d="M1366.2,2537.2L1617.5,2537.2L1619.0,2536.8L1621.3,2535.8L1623.8,2534.2L1628.0,2530.9L1629.5,2529.3L1631.3,2527.0L1633.3,2523.9L1639.5,2513.3L1643.3,2505.5L1648.1,2494.9L1664.4,2455.3L1670.8,2440.3L1675.6,2429.6L1680.3,2419.5L1684.8,2410.7L1689.6,2401.9L1694.4,2393.9L1699.5,2386.2L1704.3,2379.7L1709.7,2373.1L1716.4,2365.5L1720.2,2361.7L1724.1,2358.4L1734.6,2349.9L1738.8,2347.0L1744.8,2343.6L1751.8,2340.6L1756.6,2339.0L1763.7,2337.4L1772.9,2336.4L1780.9,2336.1L1787.0,2336.4L1796.2,2337.3L1804.2,2338.7L1811.2,2340.4L1823.7,2344.1L1833.6,2347.5L1845.4,2352.0L1882.4,2368.1L1887.2,2369.9L1888.8,2370.2L1890.1,2370.0L1891.3,2369.3L1892.9,2368.0L1894.2,2366.6L1895.5,2363.8L1898.4,2355.9L1900.9,2347.4L1904.7,2333.3L1916.9,2284.2L1921.0,2268.8L1924.2,2257.9L1926.8,2250.3L1932.5,2234.9L1937.0,2221.4L1938.6,2217.7L1940.8,2214.2L1941.8,2212.2L1942.7,2209.5L1943.4,2206.5L1944.6,2196.1L1945.3,2185.3L1948.1,2086.7L1949.7,2039.4L1951.3,2011.5L1952.6,1999.1L1953.3,1996.3L1953.6,1996.8L1953.9,1998.4L1954.8,2007.1L1956.1,2026.1L1957.7,2060.7L1960.9,2143.3L1962.5,2174.4L1963.1,2184.0L1964.1,2193.8L1965.1,2201.0L1966.3,2207.3L1967.6,2211.2L1970.8,2218.6L1977.8,2233.2L1983.3,2245.6L2003.7,2294.9L2012.9,2316.7L2021.2,2335.2L2029.5,2352.5L2034.6,2362.3L2039.8,2371.6L2044.9,2380.3L2050.0,2388.3L2055.4,2396.3L2060.8,2403.6L2066.2,2410.4L2072.0,2417.0L2077.1,2422.4L2082.5,2427.8L2088.0,2432.7L2093.4,2437.3L2099.1,2441.8L2104.9,2445.9L2110.9,2449.9L2117.3,2453.8L2123.7,2457.3L2130.4,2460.7L2137.4,2463.9L2144.8,2467.0L2152.4,2469.9L2160.1,2472.5L2168.4,2475.1L2177.0,2477.5L2191.7,2481.1L2207.7,2484.4L2228.1,2487.9L2247.2,2490.6L2283.9,2494.9L2374.3,2504.2L2419.0,2509.5" stroke="#ff0000"/>
<path d="M1366.2,2537.2L1648.2,2537.2L1650.8,2536.1L1653.2,2534.5L1655.9,2532.3L1657.6,2530.6L1659.4,2528.3L1662.0,2524.5L1664.9,2519.5L1668.4,2512.1L1674.1,2497.5L1677.2,2488.5L1697.3,2425.5L1704.1,2406.2L1709.2,2393.0L1714.6,2380.3L1720.0,2368.7L1726.1,2356.7L1731.5,2347.4L1737.6,2338.4L1743.9,2330.4L1750.6,2323.3L1755.4,2318.9L1759.9,2315.8L1765.0,2313.0L1772.4,2310.0L1775.2,2309.3L1783.5,2308.3L1789.3,2307.9L1794.4,2307.9L1799.8,2308.4L1805.9,2309.2L1810.3,2310.3L1816.1,2312.1L1823.4,2314.6L1828.5,2316.6L1844.2,2323.7L1876.1,2340.3L1903.5,2355.4L1908.0,2357.6L1914.4,2360.4L1916.9,2361.2L1918.2,2361.4L1919.2,2361.3L1920.8,2360.2L1923.0,2357.4L1923.9,2355.4L1925.2,2351.0L1927.1,2342.6L1931.0,2319.1L1935.8,2286.5L1939.3,2265.8L1942.1,2250.8L1946.9,2229.1L1952.4,2202.5L1954.9,2192.6L1957.5,2184.1L1960.0,2177.2L1962.2,2173.6L1963.2,2171.7L1964.2,2168.6L1964.8,2164.7L1965.4,2157.2L1965.8,2148.9L1968.3,1972.9L1969.3,1941.8L1969.6,1936.1L1969.9,1933.8L1971.8,1934.0L1972.1,1937.3L1973.4,1970.3L1975.0,2033.8L1977.6,2109.7L1978.8,2136.1L1979.8,2151.2L1980.8,2159.8L1982.0,2167.3L1983.0,2171.0L1984.6,2175.6L1986.2,2179.0L1990.7,2187.3L1993.2,2193.8L1996.1,2202.0L2002.8,2222.6L2018.1,2273.5L2024.8,2295.1L2032.5,2318.0L2040.1,2338.7L2044.3,2348.7L2048.1,2357.3L2051.9,2365.2L2056.1,2373.0L2060.5,2380.8L2065.0,2387.9L2069.8,2394.9L2074.6,2401.3L2079.4,2407.1L2084.5,2412.8L2089.6,2418.0L2095.0,2423.2L2100.8,2428.1L2106.5,2432.7L2112.9,2437.3L2119.3,2441.6L2126.0,2445.7L2133.0,2449.6L2140.3,2453.4L2147.7,2456.8L2155.3,2460.1L2163.3,2463.2L2171.6,2466.1L2180.6,2469.0L2194.9,2473.1L2209.9,2476.7L2232.6,2481.4L2254.0,2485.1L2290.3,2490.4L2376.5,2501.2L2408.4,2505.6L2419.0,2506.9" stroke="#00ff00"/>
<path d="M1366.2,2537.2L1674.0,2537.2L1675.3,2536.6L1677.2,2535.1L1679.5,2532.6L1680.7,2531.0L1682.1,2528.7L1684.2,2524.3L1687.1,2517.3L1690.3,2508.4L1694.1,2495.9L1698.0,2482.1L1703.1,2462.6L1716.2,2410.9L1723.8,2383.0L1728.3,2368.2L1732.8,2354.6L1736.6,2344.0L1740.4,2334.6L1746.2,2322.3L1753.8,2307.5L1758.9,2299.2L1764.4,2291.6L1770.1,2285.3L1773.0,2282.7L1775.5,2280.7L1779.0,2278.2L1782.2,2276.4L1785.1,2275.1L1789.2,2273.6L1793.4,2272.5L1800.7,2271.4L1805.5,2271.0L1809.4,2271.0L1814.5,2271.8L1822.4,2273.6L1826.3,2274.9L1830.7,2276.8L1844.8,2284.2L1858.5,2292.8L1894.9,2318.2L1930.0,2341.2L1945.3,2349.9L1948.8,2352.3L1949.8,2352.7L1950.4,2352.6L1951.4,2352.0L1952.3,2350.7L1953.3,2348.8L1954.6,2345.8L1954.9,2344.6L1955.9,2339.1L1957.4,2327.4L1965.1,2252.8L1968.9,2211.1L1971.5,2188.5L1974.4,2167.1L1977.6,2147.0L1979.8,2135.1L1981.1,2129.5L1982.0,2126.3L1984.9,2120.1L1985.9,2117.2L1986.8,2112.6L1987.4,2106.2L1988.1,2092.3L1988.7,2047.8L1990.0,1883.5L1990.3,1851.9L1990.6,1849.6L1991.9,1849.6L1992.2,1861.9L1992.9,1927.4L1993.5,1965.9L1994.8,2024.8L1996.4,2083.4L1997.3,2106.1L1998.3,2116.9L1999.3,2123.9L2000.5,2130.2L2001.8,2135.2L2003.1,2139.3L2006.9,2150.1L2009.8,2160.4L2029.3,2236.5L2036.0,2261.6L2042.3,2284.1L2049.0,2305.7L2053.5,2318.8L2057.3,2329.3L2061.5,2339.7L2065.6,2349.3L2070.1,2358.7L2074.6,2367.2L2079.4,2375.6L2084.2,2383.3L2088.9,2390.3L2093.7,2396.7L2098.8,2403.0L2104.3,2409.2L2110.0,2415.1L2115.8,2420.6L2121.8,2425.9L2127.9,2430.8L2134.3,2435.5L2141.0,2440.0L2148.0,2444.3L2155.3,2448.4L2163.0,2452.3L2170.6,2455.8L2178.6,2459.1L2187.2,2462.4L2195.5,2465.2L2204.8,2468.1L2219.8,2472.1L2239.3,2476.6L2259.4,2480.5L2278.8,2483.8L2295.8,2486.3L2379.4,2497.7L2408.4,2502.0L2419.0,2503.4" stroke="#0000ff"/>
</g>
<path d="M1366.20,2537.20 v-7.00 M1366.20,1835.60 v7.00 M1401.29,2537.20 v-7.00 M1401.29,1835.60 v7.00 M1436.38,2537.20 v-7.00 M1436.38,1835.60 v7.00 M1471.48,2537.20 v-7.00 M1471.48,1835.60 v7.00 M1506.57,2537.20 v-7.00 M1506.57,1835.60 v7.00 M1541.66,2537.20 v-7.00 M1541.66,1835.60 v7.00 M1576.75,2537.20 v-7.00 M1576.75,1835.60 v7.00 M1611.84,2537.20 v-7.00 M1611.84,1835.60 v7.00 M1646.94,2537.20 v-7.00 M1646.94,1835.60 v7.00 M1682.03,2537.20 v-7.00 M1682.03,1835.60 v7.00 M1717.12,2537.20 v-7.00 M1717.12,1835.60 v7.00 M1752.21,2537.20 v-7.00 M1752.21,1835.60 v7.00 M1787.30,2537.20 v-7.00 M1787.30,1835.60 v7.00 M1822.40,2537.20 v-7.00 M1822.40,1835.60 v7.00 M1857.49,2537.20 v-7.00 M1857.49,1835.60 v7.00 M1892.58,2537.20 v-7.00 M1892.58,1835.60 v7.00 M1927.67,2537.20 v-7.00 M1927.67,1835.60 v7.00 M1962.76,2537.20 v-7.00 M1962.76,1835.60 v7.00 M1997.86,2537.20 v-7.00 M1997.86,1835.60 v7.00 M2032.95,2537.20 v-7.00 M2032.95,1835.60 v7.00 M2068.04,2537.20 v-7.00 M2068.04,1835.60 v7.00 M2103.13,2537.20 v-7.00 M2103.13,1835.60 v7.00 M2138.22,2537.20 v-7.00 M2138.22,1835.60 v7.00 M2173.32,2537.20 v-7.00 M2173.32,1835.60 v7.00 M2208.41,2537.20 v-7.00 M2208.41,1835.60 v7.00 M2243.50,2537.20 v-7.00 M2243.50,1835.60 v7.00 M2278.59,2537.20 v-7.00 M2278.59,1835.60 v7.00 M2313.68,2537.20 v-7.00 M2313.68,1835.60 v7.00 M2348.78,2537.20 v-7.00 M2348.78,1835.60 v7.00 M2383.87,2537.20 v-7.00 M2383.87,1835.60 v7.00 M2418.96,2537.20 v-7.00 M2418.96,1835.60 v7.00 M1366.20,2537.20 v-11.50 M1366.20,1835.60 v11.50 M1506.57,2537.20 v-11.50 M1506.57,1835.60 v11.50 M1646.94,2537.20 v-11.50 M1646.94,1835.60 v11.50 M1787.30,2537.20 v-11.50 M1787.30,1835.60 v11.50 M1927.67,2537.20 v-11.50 M1927.67,1835.60 v11.50 M2068.04,2537.20 v-11.50 M2068.04,1835.60 v11.50 M2208.41,2537.20 v-11.50 M2208.41,1835.60 v11.50 M2348.78,2537.20 v-11.50 M2348.78,1835.60 v11.50 M1366.20,2537.20 h7.00 M2418.96,2537.20 h-7.00 M1366.20,2502.12 h7.00 M2418.96,2502.12 h-7.00 M1366.20,2467.04 h7.00 M2418.96,2467.04 h-7.00 M1366.20,2431.96 h7.00 M2418.96,2431.96 h-7.00 M1366.20,2396.88 h7.00 M2418.96,2396.88 h-7.00 M1366.20,2361.80 h7.00 M2418.96,2361.80 h-7.00 M1366.20,2326.72 h7.00 M2418.96,2326.72 h-7.00 M1366.20,2291.64 h7.00 M2418.96,2291.64 h-7.00 M1366.20,2256.56 h7.00 M2418.96,2256.56 h-7.00 M1366.20,2221.48 h7.00 M2418.96,2221.48 h-7.00 M1366.20,2186.40 h7.00 M2418.96,2186.40 h-7.00 M1366.20,2151.32 h7.00 M2418.96,2151.32 h-7.00 M1366.20,2116.24 h7.00 M2418.96,2116.24 h-7.00 M1366.20,2081.16 h7.00 M2418.96,2081.16 h-7.00 M1366.20,2046.08 h7.00 M2418.96,2046.08 h-7.00 M1366.20,2011.00 h7.00 M2418.96,2011.00 h-7.00 M1366.20,1975.92 h7.00 M2418.96,1975.92 h-7.00 M1366.20,1940.84 h7.00 M2418.96,1940.84 h-7.00 M1366.20,1905.76 h7.00 M2418.96,1905.76 h-7.00 M1366.20,1870.68 h7.00 M2418.96,1870.68 h-7.00 M1366.20,1835.60 h7.00 M2418.96,1835.60 h-7.00 M1366.20,2537.20 h11.50 M2418.96,2537.20 h-11.50 M1366.20,2396.88 h11.50 M2418.96,2396.88 h-11.50 M1366.20,2256.56 h11.50 M2418.96,2256.56 h-11.50 M1366.20,2116.24 h11.50 M2418.96,2116.24 h-11.50 M1366.20,1975.92 h11.50 M2418.96,1975.92 h-11.50 M1366.20,1835.60 h11.50 M2418.96,1835.60 h-11.50" stroke="#000" stroke-width="3" fill="none"/>
<rect x="1366.20" y="1835.60" width="1052.76" height="701.60" fill="none" stroke="#000" stroke-width="3.8"/>
<g font-family='"Liberation Sans", sans-serif' font-size="32.5" fill="#000">
<text x="1366.20" y="2577.60" text-anchor="middle">0</text>
<text x="1506.57" y="2577.60" text-anchor="middle">2</text>
<text x="1646.94" y="2577.60" text-anchor="middle">4</text>
<text x="1787.30" y="2577.60" text-anchor="middle">6</text>
<text x="1927.67" y="2577.60" text-anchor="middle">8</text>
<text x="2068.04" y="2577.60" text-anchor="middle">10</text>
<text x="2208.41" y="2577.60" text-anchor="middle">12</text>
<text x="2348.78" y="2577.60" text-anchor="middle">14</text>
<text x="1355.90" y="2548.20" text-anchor="end">0.00</text>
<text x="1355.90" y="2407.88" text-anchor="end">0.02</text>
<text x="1355.90" y="2267.56" text-anchor="end">0.04</text>
<text x="1355.90" y="2127.24" text-anchor="end">0.06</text>
<text x="1355.90" y="1986.92" text-anchor="end">0.08</text>
<text x="1355.90" y="1846.60" text-anchor="end">0.10</text>
<text x="1892.08" y="1810.00" text-anchor="middle" font-size="33.3">Case III</text>
</g>
<text x="1892.08" y="2633.20" text-anchor="middle" font-family='"Liberation Sans", sans-serif' font-size="33.5" font-style="italic">b</text>
<g transform="translate(1261.00,2186.40) rotate(-90)"><text text-anchor="middle" font-family='"Liberation Sans", sans-serif' font-size="33.5" x="0" y="0"><tspan font-style="italic">f</tspan><tspan dx="2.4">(</tspan><tspan font-style="italic">r</tspan><tspan font-size="29.7" font-style="italic" dx="1.4" dy="8.5">O</tspan><tspan dy="-8.5">)</tspan><tspan font-size="29.7" dy="-15.9">2</tspan><tspan dy="15.9" dx="2.3" font-style="italic">I</tspan><tspan font-size="29.7" dy="8.5">obs</tspan><tspan dy="-8.5">(</tspan><tspan font-style="italic">b</tspan><tspan dx="1.2">)</tspan></text></g>
<rect x="2075.70" y="1891.10" width="265" height="240" fill="#fff" stroke="#000" stroke-width="2.2"/>
<line x1="2106.90" y1="1945.10" x2="2173.10" y2="1945.10" stroke="#ff0000" stroke-width="5"/>
<text y="1956.10" fill="#000" font-family='"Liberation Serif", serif'><tspan x="2187.00" font-size="42.0" font-style="italic">A</tspan><tspan x="2214.80" dy="5.00" font-size="29.0" font-family='"Liberation Sans", sans-serif' font-weight="bold" textLength="22.50" lengthAdjust="spacingAndGlyphs">=</tspan><tspan dy="-5.00" font-size="1"> </tspan><tspan font-size="35.5"><tspan x="2237.40">0</tspan><tspan x="2254.20">.</tspan><tspan x="2271.40">1</tspan></tspan></text>
<line x1="2106.90" y1="2010.40" x2="2173.10" y2="2010.40" stroke="#00ff00" stroke-width="5"/>
<text y="2021.40" fill="#000" font-family='"Liberation Serif", serif'><tspan x="2187.00" font-size="42.0" font-style="italic">A</tspan><tspan x="2214.80" dy="5.00" font-size="29.0" font-family='"Liberation Sans", sans-serif' font-weight="bold" textLength="22.50" lengthAdjust="spacingAndGlyphs">=</tspan><tspan dy="-5.00" font-size="1"> </tspan><tspan font-size="35.5"><tspan x="2237.40">0</tspan><tspan x="2254.20">.</tspan><tspan x="2271.40">1</tspan><tspan x="2288.10">5</tspan></tspan></text>
<line x1="2106.90" y1="2076.30" x2="2173.10" y2="2076.30" stroke="#0000ff" stroke-width="5"/>
<text y="2087.30" fill="#000" font-family='"Liberation Serif", serif'><tspan x="2187.00" font-size="42.0" font-style="italic">A</tspan><tspan x="2214.80" dy="5.00" font-size="29.0" font-family='"Liberation Sans", sans-serif' font-weight="bold" textLength="22.50" lengthAdjust="spacingAndGlyphs">=</tspan><tspan dy="-5.00" font-size="1"> </tspan><tspan font-size="35.5"><tspan x="2237.40">1</tspan><tspan x="2254.20">.</tspan><tspan x="2271.40">0</tspan></tspan></text>
<rect x="2495.80" y="28.85" width="812.40" height="814.05" fill="#000"/>
<rect x="2495.80" y="28.85" width="406.65" height="814.05" fill="url(#g1)"/>
<circle cx="2902.45" cy="437.10" r="215.67" fill="none" stroke="#dcab96" stroke-width="0.85" clip-path="url(#c7)"/>
<rect x="2902.45" y="28.85" width="405.75" height="408.25" fill="url(#g2)"/>
<circle cx="2902.45" cy="437.10" r="221.51" fill="none" stroke="#dcab96" stroke-width="0.85" clip-path="url(#c8)"/>
<rect x="2902.45" y="437.10" width="405.75" height="405.80" fill="url(#g3)"/>
<circle cx="2902.45" cy="437.10" r="227.98" fill="none" stroke="#dcab96" stroke-width="0.85" clip-path="url(#c9)"/>
<path d="M2521.64,842.90 v-5.50 M2521.64,28.85 v5.50 M2495.80,817.91 h5.50 M3308.20,817.91 h-5.50 M2547.03,842.90 v-3.20 M2547.03,28.85 v3.20 M2495.80,792.52 h3.20 M3308.20,792.52 h-3.20 M2572.41,842.90 v-3.20 M2572.41,28.85 v3.20 M2495.80,767.14 h3.20 M3308.20,767.14 h-3.20 M2597.80,842.90 v-3.20 M2597.80,28.85 v3.20 M2495.80,741.75 h3.20 M3308.20,741.75 h-3.20 M2623.19,842.90 v-3.20 M2623.19,28.85 v3.20 M2495.80,716.36 h3.20 M3308.20,716.36 h-3.20 M2648.57,842.90 v-5.50 M2648.57,28.85 v5.50 M2495.80,690.97 h5.50 M3308.20,690.97 h-5.50 M2673.96,842.90 v-3.20 M2673.96,28.85 v3.20 M2495.80,665.59 h3.20 M3308.20,665.59 h-3.20 M2699.35,842.90 v-3.20 M2699.35,28.85 v3.20 M2495.80,640.20 h3.20 M3308.20,640.20 h-3.20 M2724.74,842.90 v-3.20 M2724.74,28.85 v3.20 M2495.80,614.81 h3.20 M3308.20,614.81 h-3.20 M2750.12,842.90 v-3.20 M2750.12,28.85 v3.20 M2495.80,589.42 h3.20 M3308.20,589.42 h-3.20 M2775.51,842.90 v-5.50 M2775.51,28.85 v5.50 M2495.80,564.04 h5.50 M3308.20,564.04 h-5.50 M2800.90,842.90 v-3.20 M2800.90,28.85 v3.20 M2495.80,538.65 h3.20 M3308.20,538.65 h-3.20 M2826.29,842.90 v-3.20 M2826.29,28.85 v3.20 M2495.80,513.26 h3.20 M3308.20,513.26 h-3.20 M2851.67,842.90 v-3.20 M2851.67,28.85 v3.20 M2495.80,487.88 h3.20 M3308.20,487.88 h-3.20 M2877.06,842.90 v-3.20 M2877.06,28.85 v3.20 M2495.80,462.49 h3.20 M3308.20,462.49 h-3.20 M2902.45,842.90 v-5.50 M2902.45,28.85 v5.50 M2495.80,437.10 h5.50 M3308.20,437.10 h-5.50 M2927.84,842.90 v-3.20 M2927.84,28.85 v3.20 M2495.80,411.71 h3.20 M3308.20,411.71 h-3.20 M2953.22,842.90 v-3.20 M2953.22,28.85 v3.20 M2495.80,386.33 h3.20 M3308.20,386.33 h-3.20 M2978.61,842.90 v-3.20 M2978.61,28.85 v3.20 M2495.80,360.94 h3.20 M3308.20,360.94 h-3.20 M3004.00,842.90 v-3.20 M3004.00,28.85 v3.20 M2495.80,335.55 h3.20 M3308.20,335.55 h-3.20 M3029.39,842.90 v-5.50 M3029.39,28.85 v5.50 M2495.80,310.16 h5.50 M3308.20,310.16 h-5.50 M3054.77,842.90 v-3.20 M3054.77,28.85 v3.20 M2495.80,284.78 h3.20 M3308.20,284.78 h-3.20 M3080.16,842.90 v-3.20 M3080.16,28.85 v3.20 M2495.80,259.39 h3.20 M3308.20,259.39 h-3.20 M3105.55,842.90 v-3.20 M3105.55,28.85 v3.20 M2495.80,234.00 h3.20 M3308.20,234.00 h-3.20 M3130.94,842.90 v-3.20 M3130.94,28.85 v3.20 M2495.80,208.61 h3.20 M3308.20,208.61 h-3.20 M3156.32,842.90 v-5.50 M3156.32,28.85 v5.50 M2495.80,183.23 h5.50 M3308.20,183.23 h-5.50 M3181.71,842.90 v-3.20 M3181.71,28.85 v3.20 M2495.80,157.84 h3.20 M3308.20,157.84 h-3.20 M3207.10,842.90 v-3.20 M3207.10,28.85 v3.20 M2495.80,132.45 h3.20 M3308.20,132.45 h-3.20 M3232.49,842.90 v-3.20 M3232.49,28.85 v3.20 M2495.80,107.06 h3.20 M3308.20,107.06 h-3.20 M3257.87,842.90 v-3.20 M3257.87,28.85 v3.20 M2495.80,81.68 h3.20 M3308.20,81.68 h-3.20 M3283.26,842.90 v-5.50 M3283.26,28.85 v5.50 M2495.80,56.29 h5.50 M3308.20,56.29 h-5.50" stroke="#000" stroke-width="1.3" fill="none"/>
<path d="M2902.45,28.85 V842.90" stroke="#fff01a" stroke-width="3.9" stroke-dasharray="9.7,9.52" stroke-dashoffset="1.25" fill="none"/>
<path d="M2902.45,437.10 H3308.20" stroke="#fff01a" stroke-width="3.9" stroke-dasharray="9.7,9.52" fill="none"/>
<text y="114.90" fill="#fff" font-family='"Liberation Serif", serif'><tspan x="2560.27" font-size="30.0" font-style="italic">A</tspan><tspan x="2580.12" dy="3.57" font-size="20.7" font-family='"Liberation Sans", sans-serif' font-weight="bold" textLength="16.06" lengthAdjust="spacingAndGlyphs">=</tspan><tspan dy="-3.57" font-size="1"> </tspan><tspan font-size="25.3"><tspan x="2596.26">0</tspan><tspan x="2608.25">.</tspan><tspan x="2620.53">1</tspan></tspan></text>
<text y="115.20" fill="#fff" font-family='"Liberation Serif", serif'><tspan x="3162.57" font-size="30.0" font-style="italic">A</tspan><tspan x="3182.42" dy="3.57" font-size="20.7" font-family='"Liberation Sans", sans-serif' font-weight="bold" textLength="16.06" lengthAdjust="spacingAndGlyphs">=</tspan><tspan dy="-3.57" font-size="1"> </tspan><tspan font-size="25.3"><tspan x="3198.56">0</tspan><tspan x="3210.55">.</tspan><tspan x="3222.83">1</tspan><tspan x="3234.76">5</tspan></tspan></text>
<text y="774.20" fill="#fff" font-family='"Liberation Serif", serif'><tspan x="3169.57" font-size="30.0" font-style="italic">A</tspan><tspan x="3189.42" dy="3.57" font-size="20.7" font-family='"Liberation Sans", sans-serif' font-weight="bold" textLength="16.06" lengthAdjust="spacingAndGlyphs">=</tspan><tspan dy="-3.57" font-size="1"> </tspan><tspan font-size="25.3"><tspan x="3205.56">1</tspan><tspan x="3217.55">.</tspan><tspan x="3229.83">0</tspan></tspan></text>
<g font-family='"Liberation Sans", sans-serif' font-size="23.9" fill="#000">
<text x="2901.20" y="22.90" text-anchor="middle">Case I</text>
<text x="2521.64" y="870.30" text-anchor="middle"><tspan dx="0">−</tspan><tspan dx="2.6">15</tspan></text>
<text x="2489.20" y="826.41" text-anchor="end"><tspan dx="0">−</tspan><tspan dx="2.6">15</tspan></text>
<text x="2648.57" y="870.30" text-anchor="middle"><tspan dx="0">−</tspan><tspan dx="2.6">10</tspan></text>
<text x="2489.20" y="699.47" text-anchor="end"><tspan dx="0">−</tspan><tspan dx="2.6">10</tspan></text>
<text x="2775.51" y="870.30" text-anchor="middle"><tspan dx="0">−</tspan><tspan dx="2.6">5</tspan></text>
<text x="2489.20" y="572.54" text-anchor="end"><tspan dx="0">−</tspan><tspan dx="2.6">5</tspan></text>
<text x="2902.45" y="870.30" text-anchor="middle">0</text>
<text x="2489.20" y="445.60" text-anchor="end">0</text>
<text x="3029.39" y="870.30" text-anchor="middle">5</text>
<text x="2489.20" y="318.66" text-anchor="end">5</text>
<text x="3156.32" y="870.30" text-anchor="middle">10</text>
<text x="2489.20" y="191.73" text-anchor="end">10</text>
<text x="3283.26" y="870.30" text-anchor="middle">15</text>
<text x="2489.20" y="64.79" text-anchor="end">15</text>
</g>
<rect x="3344.90" y="180.50" width="32.40" height="484.40" fill="url(#g4)" stroke="#000" stroke-opacity="0.22" stroke-width="1"/>
<path d="M3377.30,664.90 h10.00 M3377.30,638.02 h6.00 M3377.30,611.14 h6.00 M3377.30,584.26 h6.00 M3377.30,557.38 h6.00 M3377.30,530.50 h10.00 M3377.30,503.62 h6.00 M3377.30,476.74 h6.00 M3377.30,449.86 h6.00 M3377.30,422.98 h6.00 M3377.30,396.10 h10.00 M3377.30,369.22 h6.00 M3377.30,342.34 h6.00 M3377.30,315.46 h6.00 M3377.30,288.58 h6.00 M3377.30,261.70 h10.00 M3377.30,234.82 h6.00 M3377.30,207.94 h6.00 M3377.30,181.06 h6.00" stroke="#bdbdbd" stroke-width="0.9" fill="none"/>
<g font-family='"Liberation Sans", sans-serif' font-size="23" fill="#5a5a5a">
<text x="3394.30" y="673.10">0.</text>
<text x="3394.30" y="538.70">0.1</text>
<text x="3394.30" y="404.30">0.2</text>
<text x="3394.30" y="269.90">0.3</text>
</g>
<rect x="2495.80" y="931.30" width="802.00" height="801.60" fill="#000"/>
<rect x="2495.80" y="931.30" width="400.70" height="801.60" fill="url(#g5)"/>
<rect x="2896.50" y="931.30" width="401.30" height="401.20" fill="url(#g6)"/>
<rect x="2896.50" y="1332.50" width="401.30" height="400.40" fill="url(#g7)"/>
<path d="M2522.23,1732.90 v-3.20 M2522.23,931.30 v3.20 M2495.80,1706.77 h3.20 M3297.80,1706.77 h-3.20 M2548.97,1732.90 v-3.20 M2548.97,931.30 v3.20 M2495.80,1680.03 h3.20 M3297.80,1680.03 h-3.20 M2575.70,1732.90 v-3.20 M2575.70,931.30 v3.20 M2495.80,1653.30 h3.20 M3297.80,1653.30 h-3.20 M2602.43,1732.90 v-3.20 M2602.43,931.30 v3.20 M2495.80,1626.57 h3.20 M3297.80,1626.57 h-3.20 M2629.17,1732.90 v-5.50 M2629.17,931.30 v5.50 M2495.80,1599.83 h5.50 M3297.80,1599.83 h-5.50 M2655.90,1732.90 v-3.20 M2655.90,931.30 v3.20 M2495.80,1573.10 h3.20 M3297.80,1573.10 h-3.20 M2682.63,1732.90 v-3.20 M2682.63,931.30 v3.20 M2495.80,1546.37 h3.20 M3297.80,1546.37 h-3.20 M2709.37,1732.90 v-3.20 M2709.37,931.30 v3.20 M2495.80,1519.63 h3.20 M3297.80,1519.63 h-3.20 M2736.10,1732.90 v-3.20 M2736.10,931.30 v3.20 M2495.80,1492.90 h3.20 M3297.80,1492.90 h-3.20 M2762.83,1732.90 v-5.50 M2762.83,931.30 v5.50 M2495.80,1466.17 h5.50 M3297.80,1466.17 h-5.50 M2789.57,1732.90 v-3.20 M2789.57,931.30 v3.20 M2495.80,1439.43 h3.20 M3297.80,1439.43 h-3.20 M2816.30,1732.90 v-3.20 M2816.30,931.30 v3.20 M2495.80,1412.70 h3.20 M3297.80,1412.70 h-3.20 M2843.03,1732.90 v-3.20 M2843.03,931.30 v3.20 M2495.80,1385.97 h3.20 M3297.80,1385.97 h-3.20 M2869.77,1732.90 v-3.20 M2869.77,931.30 v3.20 M2495.80,1359.23 h3.20 M3297.80,1359.23 h-3.20 M2896.50,1732.90 v-5.50 M2896.50,931.30 v5.50 M2495.80,1332.50 h5.50 M3297.80,1332.50 h-5.50 M2923.23,1732.90 v-3.20 M2923.23,931.30 v3.20 M2495.80,1305.77 h3.20 M3297.80,1305.77 h-3.20 M2949.97,1732.90 v-3.20 M2949.97,931.30 v3.20 M2495.80,1279.03 h3.20 M3297.80,1279.03 h-3.20 M2976.70,1732.90 v-3.20 M2976.70,931.30 v3.20 M2495.80,1252.30 h3.20 M3297.80,1252.30 h-3.20 M3003.43,1732.90 v-3.20 M3003.43,931.30 v3.20 M2495.80,1225.57 h3.20 M3297.80,1225.57 h-3.20 M3030.17,1732.90 v-5.50 M3030.17,931.30 v5.50 M2495.80,1198.83 h5.50 M3297.80,1198.83 h-5.50 M3056.90,1732.90 v-3.20 M3056.90,931.30 v3.20 M2495.80,1172.10 h3.20 M3297.80,1172.10 h-3.20 M3083.63,1732.90 v-3.20 M3083.63,931.30 v3.20 M2495.80,1145.37 h3.20 M3297.80,1145.37 h-3.20 M3110.37,1732.90 v-3.20 M3110.37,931.30 v3.20 M2495.80,1118.63 h3.20 M3297.80,1118.63 h-3.20 M3137.10,1732.90 v-3.20 M3137.10,931.30 v3.20 M2495.80,1091.90 h3.20 M3297.80,1091.90 h-3.20 M3163.83,1732.90 v-5.50 M3163.83,931.30 v5.50 M2495.80,1065.17 h5.50 M3297.80,1065.17 h-5.50 M3190.57,1732.90 v-3.20 M3190.57,931.30 v3.20 M2495.80,1038.43 h3.20 M3297.80,1038.43 h-3.20 M3217.30,1732.90 v-3.20 M3217.30,931.30 v3.20 M2495.80,1011.70 h3.20 M3297.80,1011.70 h-3.20 M3244.03,1732.90 v-3.20 M3244.03,931.30 v3.20 M2495.80,984.97 h3.20 M3297.80,984.97 h-3.20 M3270.77,1732.90 v-3.20 M3270.77,931.30 v3.20 M2495.80,958.23 h3.20 M3297.80,958.23 h-3.20" stroke="#000" stroke-width="1.3" fill="none"/>
<path d="M2896.50,931.30 V1732.90" stroke="#fff01a" stroke-width="3.9" stroke-dasharray="9.7,9.52" stroke-dashoffset="14.30" fill="none"/>
<path d="M2896.50,1332.50 H3297.80" stroke="#fff01a" stroke-width="3.9" stroke-dasharray="9.7,9.52" fill="none"/>
<text y="994.50" fill="#fff" font-family='"Liberation Serif", serif'><tspan x="2538.67" font-size="30.0" font-style="italic">A</tspan><tspan x="2558.52" dy="3.57" font-size="20.7" font-family='"Liberation Sans", sans-serif' font-weight="bold" textLength="16.06" lengthAdjust="spacingAndGlyphs">=</tspan><tspan dy="-3.57" font-size="1"> </tspan><tspan font-size="25.3"><tspan x="2574.66">0</tspan><tspan x="2586.65">.</tspan><tspan x="2598.93">1</tspan></tspan></text>
<text y="994.50" fill="#fff" font-family='"Liberation Serif", serif'><tspan x="3171.57" font-size="30.0" font-style="italic">A</tspan><tspan x="3191.42" dy="3.57" font-size="20.7" font-family='"Liberation Sans", sans-serif' font-weight="bold" textLength="16.06" lengthAdjust="spacingAndGlyphs">=</tspan><tspan dy="-3.57" font-size="1"> </tspan><tspan font-size="25.3"><tspan x="3207.56">0</tspan><tspan x="3219.55">.</tspan><tspan x="3231.83">1</tspan><tspan x="3243.76">5</tspan></tspan></text>
<text y="1687.10" fill="#fff" font-family='"Liberation Serif", serif'><tspan x="3179.07" font-size="30.0" font-style="italic">A</tspan><tspan x="3198.92" dy="3.57" font-size="20.7" font-family='"Liberation Sans", sans-serif' font-weight="bold" textLength="16.06" lengthAdjust="spacingAndGlyphs">=</tspan><tspan dy="-3.57" font-size="1"> </tspan><tspan font-size="25.3"><tspan x="3215.06">1</tspan><tspan x="3227.05">.</tspan><tspan x="3239.33">0</tspan></tspan></text>
<g font-family='"Liberation Sans", sans-serif' font-size="23.9" fill="#000">
<text x="2896.00" y="912.90" text-anchor="middle">Case II</text>
<text x="2495.50" y="1760.30" text-anchor="middle"><tspan dx="0">−</tspan><tspan dx="2.6">15</tspan></text>
<text x="2489.20" y="1742.00" text-anchor="end"><tspan dx="0">−</tspan><tspan dx="2.6">15</tspan></text>
<text x="2629.17" y="1760.30" text-anchor="middle"><tspan dx="0">−</tspan><tspan dx="2.6">10</tspan></text>
<text x="2489.20" y="1608.33" text-anchor="end"><tspan dx="0">−</tspan><tspan dx="2.6">10</tspan></text>
<text x="2762.83" y="1760.30" text-anchor="middle"><tspan dx="0">−</tspan><tspan dx="2.6">5</tspan></text>
<text x="2489.20" y="1474.67" text-anchor="end"><tspan dx="0">−</tspan><tspan dx="2.6">5</tspan></text>
<text x="2896.50" y="1760.30" text-anchor="middle">0</text>
<text x="2489.20" y="1341.00" text-anchor="end">0</text>
<text x="3030.17" y="1760.30" text-anchor="middle">5</text>
<text x="2489.20" y="1207.33" text-anchor="end">5</text>
<text x="3163.83" y="1760.30" text-anchor="middle">10</text>
<text x="2489.20" y="1073.67" text-anchor="end">10</text>
<text x="3297.50" y="1760.30" text-anchor="middle">15</text>
<text x="2489.20" y="940.00" text-anchor="end">15</text>
</g>
<rect x="3344.90" y="1070.50" width="32.40" height="484.40" fill="url(#g8)" stroke="#000" stroke-opacity="0.22" stroke-width="1"/>
<path d="M3377.30,1554.90 h10.00 M3377.30,1525.88 h6.00 M3377.30,1496.86 h6.00 M3377.30,1467.84 h6.00 M3377.30,1438.82 h6.00 M3377.30,1409.80 h10.00 M3377.30,1380.78 h6.00 M3377.30,1351.76 h6.00 M3377.30,1322.74 h6.00 M3377.30,1293.72 h6.00 M3377.30,1264.70 h10.00 M3377.30,1235.68 h6.00 M3377.30,1206.66 h6.00 M3377.30,1177.64 h6.00 M3377.30,1148.62 h6.00 M3377.30,1119.60 h10.00 M3377.30,1090.58 h6.00" stroke="#bdbdbd" stroke-width="0.9" fill="none"/>
<g font-family='"Liberation Sans", sans-serif' font-size="23" fill="#5a5a5a">
<text x="3394.30" y="1563.10">0.</text>
<text x="3394.30" y="1418.00">0.1</text>
<text x="3394.30" y="1272.90">0.2</text>
<text x="3394.30" y="1127.80">0.3</text>
</g>
<rect x="2495.10" y="1815.70" width="790.80" height="790.60" fill="#000"/>
<rect x="2495.10" y="1815.70" width="394.10" height="790.60" fill="url(#g9)"/>
<rect x="2889.20" y="1815.70" width="396.70" height="394.80" fill="url(#g10)"/>
<rect x="2889.20" y="2210.50" width="396.70" height="395.80" fill="url(#g11)"/>
<path d="M2520.16,2606.30 v-3.20 M2520.16,1815.70 v3.20 M2495.10,2579.54 h3.20 M3285.90,2579.54 h-3.20 M2546.52,2606.30 v-3.20 M2546.52,1815.70 v3.20 M2495.10,2553.18 h3.20 M3285.90,2553.18 h-3.20 M2572.88,2606.30 v-3.20 M2572.88,1815.70 v3.20 M2495.10,2526.82 h3.20 M3285.90,2526.82 h-3.20 M2599.24,2606.30 v-3.20 M2599.24,1815.70 v3.20 M2495.10,2500.46 h3.20 M3285.90,2500.46 h-3.20 M2625.60,2606.30 v-5.50 M2625.60,1815.70 v5.50 M2495.10,2474.10 h5.50 M3285.90,2474.10 h-5.50 M2651.96,2606.30 v-3.20 M2651.96,1815.70 v3.20 M2495.10,2447.74 h3.20 M3285.90,2447.74 h-3.20 M2678.32,2606.30 v-3.20 M2678.32,1815.70 v3.20 M2495.10,2421.38 h3.20 M3285.90,2421.38 h-3.20 M2704.68,2606.30 v-3.20 M2704.68,1815.70 v3.20 M2495.10,2395.02 h3.20 M3285.90,2395.02 h-3.20 M2731.04,2606.30 v-3.20 M2731.04,1815.70 v3.20 M2495.10,2368.66 h3.20 M3285.90,2368.66 h-3.20 M2757.40,2606.30 v-5.50 M2757.40,1815.70 v5.50 M2495.10,2342.30 h5.50 M3285.90,2342.30 h-5.50 M2783.76,2606.30 v-3.20 M2783.76,1815.70 v3.20 M2495.10,2315.94 h3.20 M3285.90,2315.94 h-3.20 M2810.12,2606.30 v-3.20 M2810.12,1815.70 v3.20 M2495.10,2289.58 h3.20 M3285.90,2289.58 h-3.20 M2836.48,2606.30 v-3.20 M2836.48,1815.70 v3.20 M2495.10,2263.22 h3.20 M3285.90,2263.22 h-3.20 M2862.84,2606.30 v-3.20 M2862.84,1815.70 v3.20 M2495.10,2236.86 h3.20 M3285.90,2236.86 h-3.20 M2889.20,2606.30 v-5.50 M2889.20,1815.70 v5.50 M2495.10,2210.50 h5.50 M3285.90,2210.50 h-5.50 M2915.56,2606.30 v-3.20 M2915.56,1815.70 v3.20 M2495.10,2184.14 h3.20 M3285.90,2184.14 h-3.20 M2941.92,2606.30 v-3.20 M2941.92,1815.70 v3.20 M2495.10,2157.78 h3.20 M3285.90,2157.78 h-3.20 M2968.28,2606.30 v-3.20 M2968.28,1815.70 v3.20 M2495.10,2131.42 h3.20 M3285.90,2131.42 h-3.20 M2994.64,2606.30 v-3.20 M2994.64,1815.70 v3.20 M2495.10,2105.06 h3.20 M3285.90,2105.06 h-3.20 M3021.00,2606.30 v-5.50 M3021.00,1815.70 v5.50 M2495.10,2078.70 h5.50 M3285.90,2078.70 h-5.50 M3047.36,2606.30 v-3.20 M3047.36,1815.70 v3.20 M2495.10,2052.34 h3.20 M3285.90,2052.34 h-3.20 M3073.72,2606.30 v-3.20 M3073.72,1815.70 v3.20 M2495.10,2025.98 h3.20 M3285.90,2025.98 h-3.20 M3100.08,2606.30 v-3.20 M3100.08,1815.70 v3.20 M2495.10,1999.62 h3.20 M3285.90,1999.62 h-3.20 M3126.44,2606.30 v-3.20 M3126.44,1815.70 v3.20 M2495.10,1973.26 h3.20 M3285.90,1973.26 h-3.20 M3152.80,2606.30 v-5.50 M3152.80,1815.70 v5.50 M2495.10,1946.90 h5.50 M3285.90,1946.90 h-5.50 M3179.16,2606.30 v-3.20 M3179.16,1815.70 v3.20 M2495.10,1920.54 h3.20 M3285.90,1920.54 h-3.20 M3205.52,2606.30 v-3.20 M3205.52,1815.70 v3.20 M2495.10,1894.18 h3.20 M3285.90,1894.18 h-3.20 M3231.88,2606.30 v-3.20 M3231.88,1815.70 v3.20 M2495.10,1867.82 h3.20 M3285.90,1867.82 h-3.20 M3258.24,2606.30 v-3.20 M3258.24,1815.70 v3.20 M2495.10,1841.46 h3.20 M3285.90,1841.46 h-3.20" stroke="#000" stroke-width="1.3" fill="none"/>
<path d="M2889.20,1815.70 V2606.30" stroke="#fff01a" stroke-width="3.9" stroke-dasharray="9.7,9.52" stroke-dashoffset="14.70" fill="none"/>
<path d="M2889.20,2210.50 H3285.90" stroke="#fff01a" stroke-width="3.9" stroke-dasharray="9.7,9.52" fill="none"/>
<text y="1877.70" fill="#fff" font-family='"Liberation Serif", serif'><tspan x="2536.67" font-size="30.0" font-style="italic">A</tspan><tspan x="2556.52" dy="3.57" font-size="20.7" font-family='"Liberation Sans", sans-serif' font-weight="bold" textLength="16.06" lengthAdjust="spacingAndGlyphs">=</tspan><tspan dy="-3.57" font-size="1"> </tspan><tspan font-size="25.3"><tspan x="2572.66">0</tspan><tspan x="2584.65">.</tspan><tspan x="2596.93">1</tspan></tspan></text>
<text y="1877.70" fill="#fff" font-family='"Liberation Serif", serif'><tspan x="3161.57" font-size="30.0" font-style="italic">A</tspan><tspan x="3181.42" dy="3.57" font-size="20.7" font-family='"Liberation Sans", sans-serif' font-weight="bold" textLength="16.06" lengthAdjust="spacingAndGlyphs">=</tspan><tspan dy="-3.57" font-size="1"> </tspan><tspan font-size="25.3"><tspan x="3197.56">0</tspan><tspan x="3209.55">.</tspan><tspan x="3221.83">1</tspan><tspan x="3233.76">5</tspan></tspan></text>
<text y="2560.80" fill="#fff" font-family='"Liberation Serif", serif'><tspan x="3168.07" font-size="30.0" font-style="italic">A</tspan><tspan x="3187.92" dy="3.57" font-size="20.7" font-family='"Liberation Sans", sans-serif' font-weight="bold" textLength="16.06" lengthAdjust="spacingAndGlyphs">=</tspan><tspan dy="-3.57" font-size="1"> </tspan><tspan font-size="25.3"><tspan x="3204.06">1</tspan><tspan x="3216.05">.</tspan><tspan x="3228.33">0</tspan></tspan></text>
<g font-family='"Liberation Sans", sans-serif' font-size="23.9" fill="#000">
<text x="2889.70" y="1798.00" text-anchor="middle">Case III</text>
<text x="2493.80" y="2633.70" text-anchor="middle"><tspan dx="0">−</tspan><tspan dx="2.6">15</tspan></text>
<text x="2488.50" y="2614.40" text-anchor="end"><tspan dx="0">−</tspan><tspan dx="2.6">15</tspan></text>
<text x="2625.60" y="2633.70" text-anchor="middle"><tspan dx="0">−</tspan><tspan dx="2.6">10</tspan></text>
<text x="2488.50" y="2482.60" text-anchor="end"><tspan dx="0">−</tspan><tspan dx="2.6">10</tspan></text>
<text x="2757.40" y="2633.70" text-anchor="middle"><tspan dx="0">−</tspan><tspan dx="2.6">5</tspan></text>
<text x="2488.50" y="2350.80" text-anchor="end"><tspan dx="0">−</tspan><tspan dx="2.6">5</tspan></text>
<text x="2889.20" y="2633.70" text-anchor="middle">0</text>
<text x="2488.50" y="2219.00" text-anchor="end">0</text>
<text x="3021.00" y="2633.70" text-anchor="middle">5</text>
<text x="2488.50" y="2087.20" text-anchor="end">5</text>
<text x="3152.80" y="2633.70" text-anchor="middle">10</text>
<text x="2488.50" y="1955.40" text-anchor="end">10</text>
<text x="3284.60" y="2633.70" text-anchor="middle">15</text>
<text x="2488.50" y="1823.60" text-anchor="end">15</text>
</g>
<rect x="3332.10" y="1952.80" width="32.10" height="476.50" fill="url(#g12)" stroke="#000" stroke-opacity="0.22" stroke-width="1"/>
<path d="M3364.20,2429.30 h10.00 M3364.20,2398.18 h6.00 M3364.20,2367.05 h6.00 M3364.20,2335.93 h6.00 M3364.20,2304.80 h10.00 M3364.20,2273.68 h6.00 M3364.20,2242.55 h6.00 M3364.20,2211.43 h6.00 M3364.20,2180.30 h10.00 M3364.20,2149.18 h6.00 M3364.20,2118.05 h6.00 M3364.20,2086.93 h6.00 M3364.20,2055.80 h10.00 M3364.20,2024.68 h6.00 M3364.20,1993.55 h6.00 M3364.20,1962.43 h6.00" stroke="#bdbdbd" stroke-width="0.9" fill="none"/>
<g font-family='"Liberation Sans", sans-serif' font-size="23" fill="#5a5a5a">
<text x="3381.20" y="2437.50">0.</text>
<text x="3381.20" y="2313.00">0.02</text>
<text x="3381.20" y="2188.50">0.04</text>
<text x="3381.20" y="2064.00">0.06</text>
</g></svg></body></html>
